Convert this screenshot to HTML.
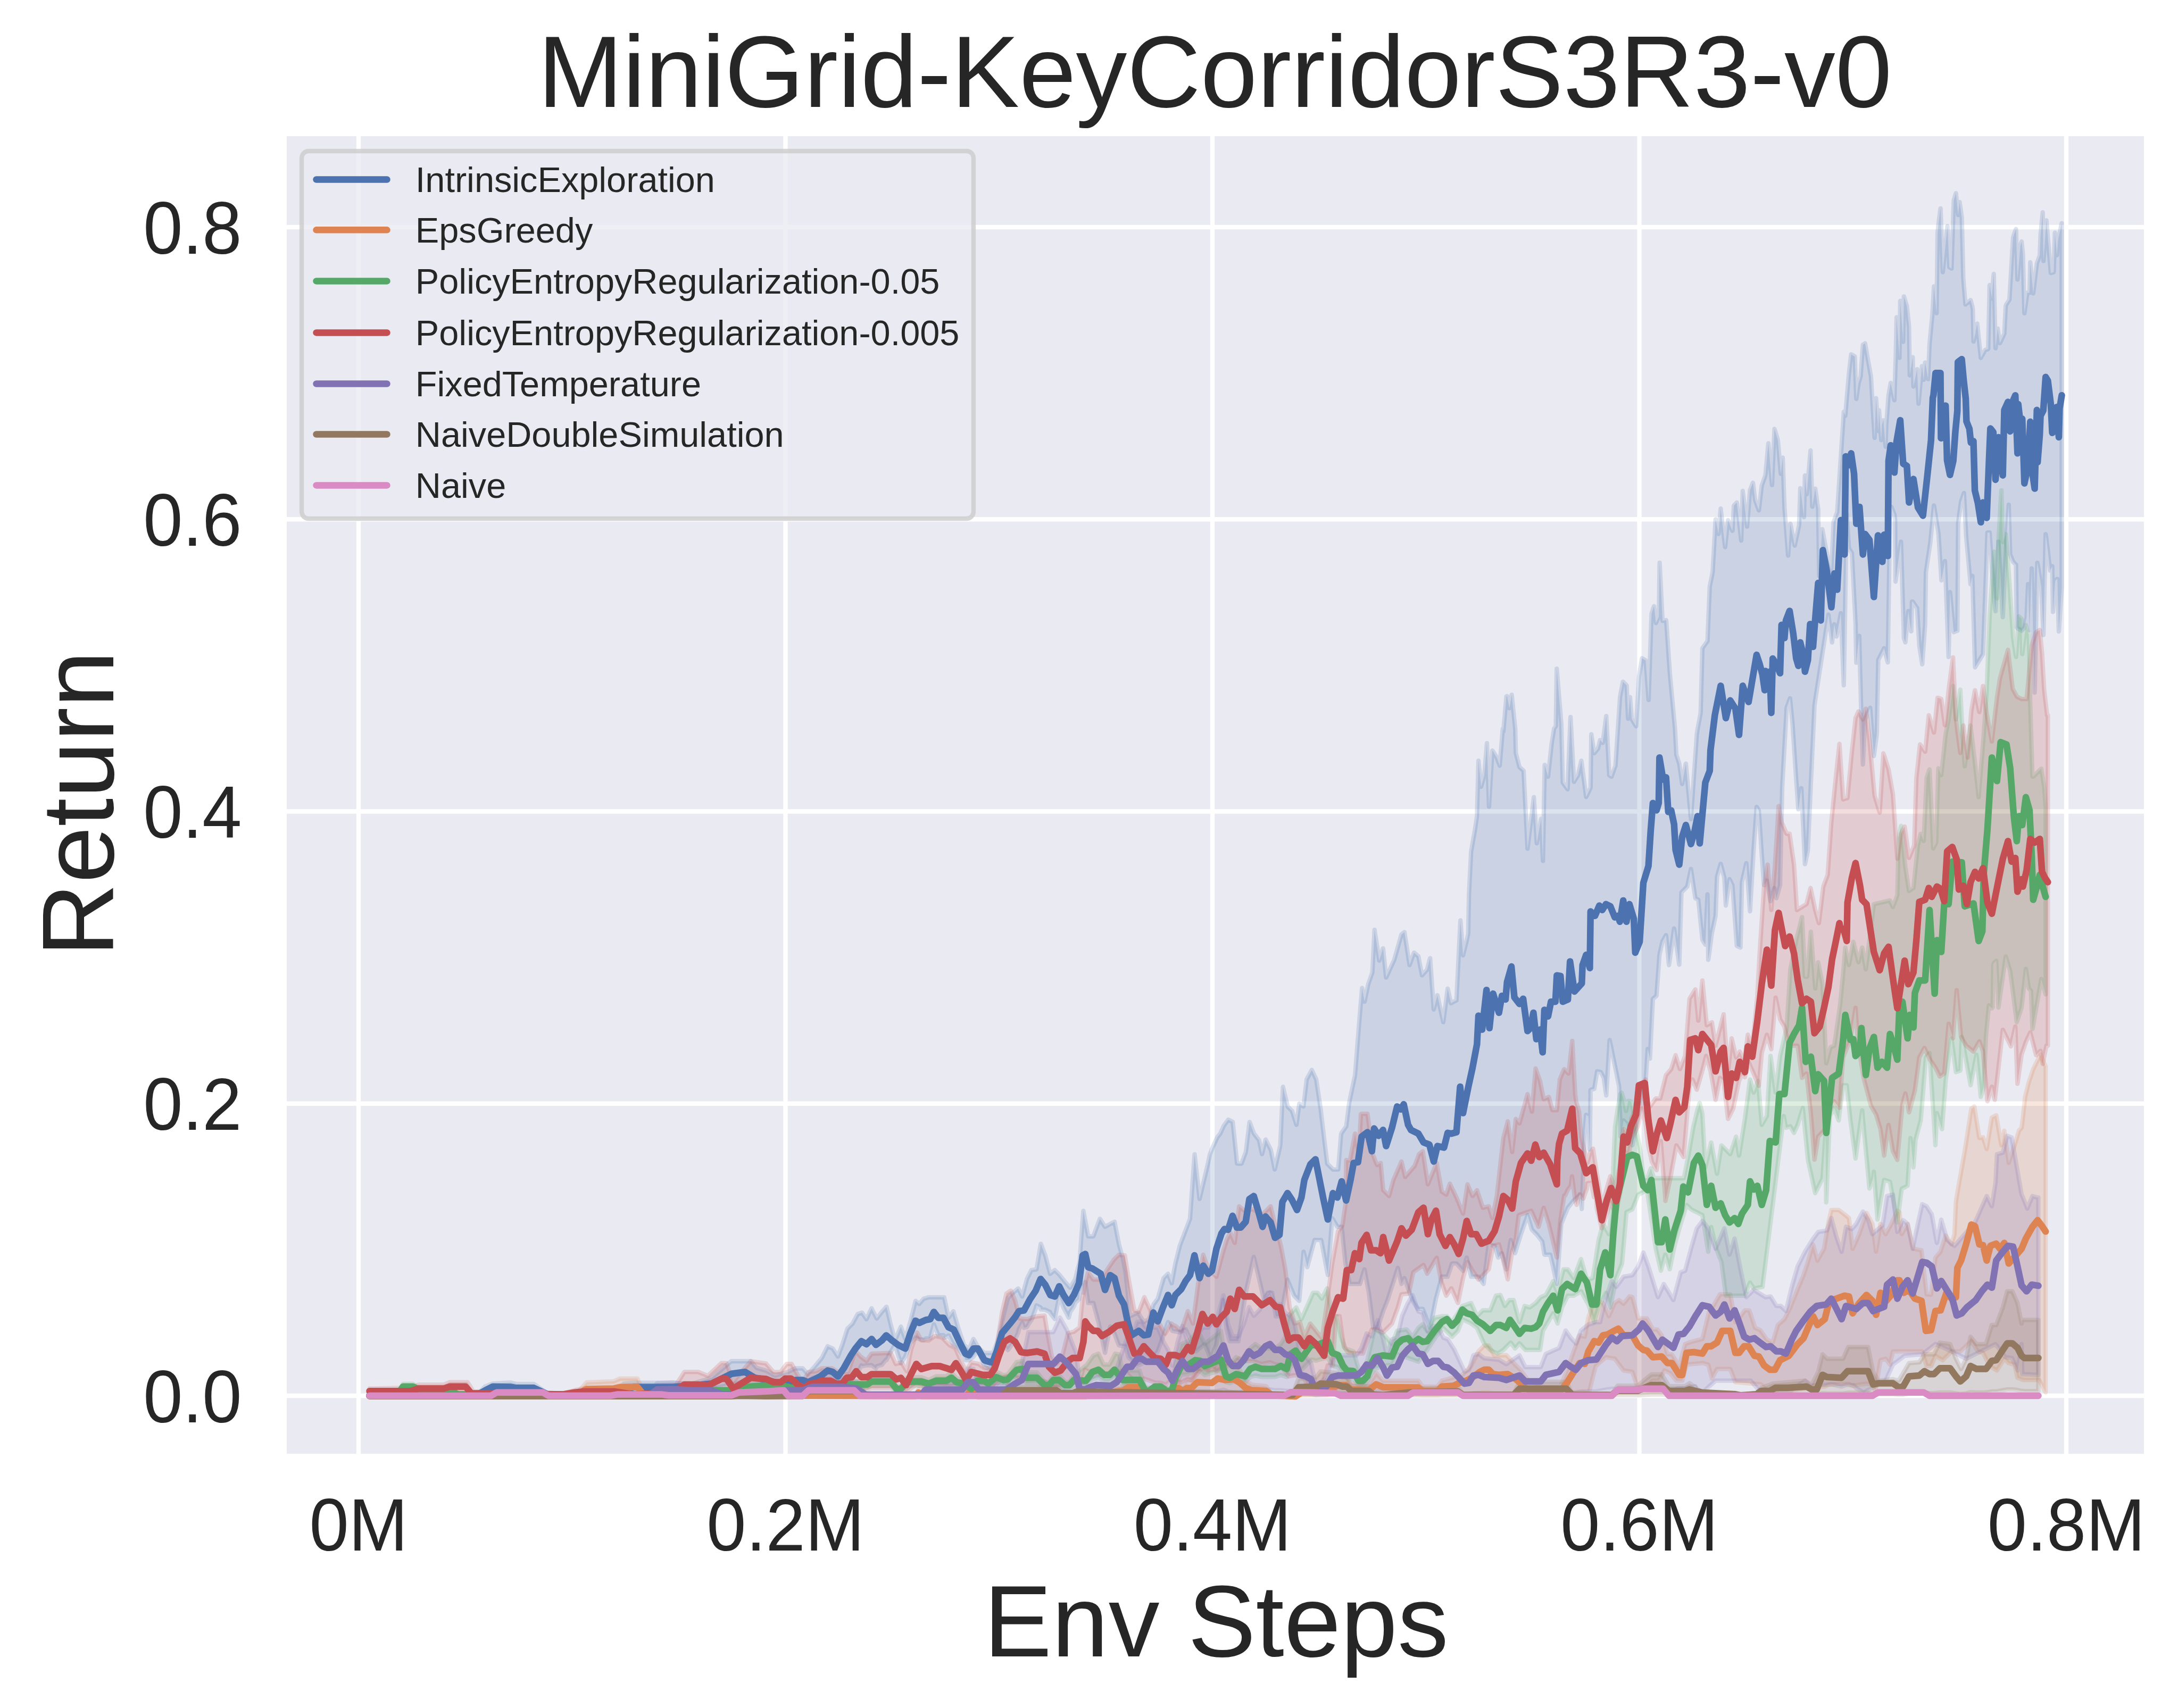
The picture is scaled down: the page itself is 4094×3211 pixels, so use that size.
<!DOCTYPE html>
<html><head><meta charset="utf-8"><title>MiniGrid-KeyCorridorS3R3-v0</title>
<style>html,body{margin:0;padding:0;background:#fff}body{width:4094px;height:3211px;overflow:hidden}svg{display:block}text{font-family:"Liberation Sans",sans-serif;fill:#262626}</style>
</head><body>
<svg width="4094" height="3211" viewBox="0 0 4094 3211">
<rect x="0" y="0" width="4094" height="3211" fill="#ffffff"/>
<rect x="539" y="256" width="3491" height="2477" fill="#eaeaf2"/>
<g stroke="#ffffff" stroke-width="8.3" fill="none">
<line x1="674" y1="256" x2="674" y2="2733"/>
<line x1="1476.5" y1="256" x2="1476.5" y2="2733"/>
<line x1="2279" y1="256" x2="2279" y2="2733"/>
<line x1="3081.5" y1="256" x2="3081.5" y2="2733"/>
<line x1="3884" y1="256" x2="3884" y2="2733"/>
<line x1="539" y1="427" x2="4030" y2="427"/>
<line x1="539" y1="976.25" x2="4030" y2="976.25"/>
<line x1="539" y1="1525.5" x2="4030" y2="1525.5"/>
<line x1="539" y1="2074.75" x2="4030" y2="2074.75"/>
<line x1="539" y1="2624" x2="4030" y2="2624"/>
</g>
<clipPath id="axclip"><rect x="539" y="256" width="3491" height="2477"/></clipPath>
<g clip-path="url(#axclip)">
<polygon points="694.5,2621.4 698.4,2621.4 897.1,2621.8 911.8,2606.7 926.5,2601.2 959.6,2599.2 970.6,2601.9 1003.6,2601.9 1029.3,2619.6 1154.2,2621.8 1172.6,2601.2 1191,2599.7 1264.4,2599.7 1301.2,2601.2 1337.9,2590.2 1374.6,2559 1400.3,2559 1411.3,2559 1418.7,2567.5 1422.4,2571.8 1440,2576.7 1456.5,2586.2 1475.8,2580.8 1481.3,2579.3 1495.1,2572.4 1508.9,2572.5 1518.5,2583.4 1530.9,2569.7 1541.9,2556.5 1544.7,2553.1 1555.7,2531.1 1565.3,2535.2 1575,2550.3 1583.3,2528.2 1586,2519.7 1592.9,2498 1599.8,2491.1 1602.5,2488.4 1608,2478.3 1612.2,2470.5 1619.1,2468.2 1620.4,2467.8 1628.7,2480.1 1638.3,2459.6 1646.6,2476 1648,2478.7 1657.6,2466.4 1665.9,2457.3 1666.4,2456.8 1674.2,2489.9 1676.9,2499.8 1682.4,2520 1687.9,2507.1 1693.4,2494 1701.7,2517.3 1711.3,2484.4 1721,2445.7 1727.9,2451.2 1736.1,2441.6 1740.3,2440.4 1745.8,2438.8 1748.5,2438.8 1755.4,2438.8 1763.7,2438.8 1773.3,2438.8 1774.7,2438.8 1783,2477.3 1792.1,2465.1 1792.6,2466.8 1800.9,2495.3 1803.6,2503.4 1811.9,2528.3 1814.7,2530.7 1821.5,2536.6 1829.8,2517.3 1838.1,2531.5 1839.4,2533.8 1850.5,2543.5 1858.7,2543.5 1865.6,2543.5 1867,2543.5 1873.9,2523.9 1875.3,2519.9 1883.5,2485.1 1886.3,2473.2 1894.5,2440.4 1897.3,2437.4 1905.6,2429.1 1908.3,2426.9 1913.8,2422.3 1915.2,2425 1921.5,2437.4 1924.8,2425.2 1930.4,2404.3 1935.9,2393.3 1938.6,2387.9 1946.9,2386.7 1948.3,2386.3 1956,2341.3 1956.5,2338.4 1964.8,2360.3 1973.9,2394.7 1974.4,2394.3 1982.7,2387.9 1991,2396.2 1999.2,2406.4 2002,2409.9 2008.9,2417.8 2011.6,2420.9 2018.5,2409.1 2021.3,2404.2 2028.2,2376.6 2029.5,2371.4 2032.3,2329.8 2035,2294.7 2036.4,2276.5 2040,2295.3 2045.5,2324.3 2053.7,2324.3 2055.1,2324.3 2064.7,2298.7 2067.5,2291.3 2068.9,2293.5 2077.1,2306.4 2086.8,2301.2 2095,2296.8 2103.3,2339.4 2110.2,2364.3 2112.9,2377.8 2115.7,2391.8 2119.8,2430.1 2121.2,2444.9 2124,2474.4 2126.7,2473.2 2137.7,2468.2 2139.1,2467.6 2140.5,2469.8 2150.1,2485.4 2158.4,2480.8 2159.8,2479.9 2165.3,2461.6 2168,2452.6 2176.3,2441.4 2186,2407.5 2187.3,2402.9 2195.6,2394.6 2202.5,2412.4 2203.9,2404.8 2209.4,2375.2 2217.6,2342.4 2220.4,2334.8 2225.9,2320.2 2228.7,2312.8 2236.9,2291.3 2245.2,2173.4 2245.5,2170.2 2247.9,2191.8 2254.8,2253.9 2261.7,2225.1 2264.5,2213.3 2270.2,2189.2 2271.3,2184.1 2274.4,2169.7 2275.5,2167 2278.2,2160.2 2279.9,2156 2286.5,2141.7 2288.2,2138 2293.7,2131.1 2296.1,2125.8 2298.9,2119.7 2300.6,2116 2301.7,2114.5 2305.8,2109 2308.5,2105.4 2308.8,2105 2311.3,2106.3 2316.8,2109 2317.1,2109.3 2321.2,2147.6 2325.1,2185.3 2325.3,2187.2 2327.8,2187.7 2332,2187.7 2333.6,2187.7 2341.6,2166.3 2341.9,2165.4 2348.5,2111.3 2348.8,2109.3 2356.7,2130.3 2357,2131.1 2365,2141.4 2366.4,2143.2 2366.7,2143.7 2372.2,2169.7 2373.3,2165.3 2376,2154.5 2378.8,2143.3 2379.1,2142.3 2382.9,2149.9 2388.4,2160.9 2388.7,2161.5 2391.2,2174 2396.1,2198.5 2396.7,2196.3 2398.1,2190.2 2405,2160.2 2406.6,2153.3 2407.7,2129 2410.5,2066.8 2411.6,2043.2 2420.1,2079 2420.4,2080.2 2428.4,2088.2 2428.7,2088.6 2432.5,2100.7 2436.9,2114.6 2438,2106.8 2442.1,2077.1 2442.4,2074.9 2446.3,2077.5 2450.1,2080.2 2450.4,2078 2451.8,2066.2 2456.2,2029.3 2457.3,2027.2 2463.1,2016.4 2465.8,2011.4 2471.1,2022.7 2472.7,2026.2 2474.1,2029.2 2482.4,2084.6 2483.5,2094 2487.6,2128.8 2487.9,2131.4 2494.8,2187.7 2495.9,2188.8 2504.1,2197 2505.5,2198.4 2505.8,2198.7 2513.8,2198.7 2515.4,2198.7 2520.9,2131.6 2522,2129.7 2528.9,2119.8 2530.3,2117.8 2530.6,2117.2 2536.1,2073.3 2537.2,2068.1 2538.6,2061.4 2544.4,2033.9 2547.1,2021 2552.6,1951.4 2555.4,1916 2556.5,1902.8 2559.5,1867 2560.3,1857.4 2564.7,1881.5 2565,1883.2 2570.5,1856.9 2571.9,1850.2 2573,1847.1 2578.8,1830.5 2579.6,1828.2 2581.3,1795 2582.9,1763.5 2583.7,1747.8 2589.5,1785.5 2591.2,1797 2592.6,1806 2599.7,1782.8 2600,1785.3 2605.5,1837.7 2608.3,1831.7 2616.5,1813.8 2617.9,1810.8 2620.7,1804.6 2626.2,1785.4 2627.5,1780.8 2633.1,1761.2 2634.4,1756.7 2638.6,1753.4 2639.9,1752.4 2646.8,1796.5 2649.6,1814.3 2652.3,1806.7 2656.5,1794.8 2657.9,1791 2664.7,1796.7 2666.1,1797.8 2673,1833.6 2674.4,1832.1 2675.8,1830.5 2682.6,1822.7 2686.8,1806 2688.2,1801.3 2695,1897.8 2699.2,1881.8 2701.9,1871 2710.2,1909.1 2712.9,1921.6 2714.3,1911.5 2721.2,1858.6 2727.3,1886 2728.1,1885.6 2729.5,1884.8 2737.7,1880.5 2744.6,1741.8 2745.2,1730.3 2750.1,1796 2757,1768 2759.8,1755.4 2761.2,1682.4 2765.3,1600.5 2768,1585.4 2772.2,1561.9 2776.3,1534.5 2779.1,1430.1 2784,1479.1 2786,1472.2 2788.7,1462.4 2790.1,1457.1 2794.2,1407 2795,1397.2 2798.3,1498 2798.9,1516.5 2799.7,1503.1 2805.2,1411.1 2806.6,1412.8 2809.4,1417.4 2813.5,1424.3 2816.3,1432 2817.6,1435.5 2819,1439.4 2823.1,1390.3 2824.8,1370 2825.9,1374.6 2830,1328.1 2831.4,1312.3 2831.7,1309.1 2832.8,1308.7 2837.3,1331.4 2839.7,1317.4 2841,1309.6 2841.6,1306.1 2846.6,1354.4 2847.9,1367 2848.2,1369.9 2849.3,1415.5 2856.2,1442.2 2859,1444.7 2863.1,1448.3 2863.9,1449.1 2871.3,1595.5 2876.9,1550.6 2879.6,1528.3 2882.4,1505.2 2883.2,1498.7 2887.9,1572.7 2888.7,1585.3 2889.3,1582.1 2894.8,1550.9 2897,1539.3 2898.9,1586 2899.7,1605.7 2900.3,1618.5 2903,1470 2903.6,1438.1 2909.9,1460 2914,1422.5 2915.4,1409.6 2916.8,1396.8 2921.2,1370 2923.7,1366.3 2924.5,1365.1 2926.2,1257.1 2926.4,1259.5 2933.3,1342.7 2934.7,1359.5 2934.8,1360.7 2937.5,1471.2 2946.6,1483.8 2947.1,1471.3 2951.2,1368.8 2952.1,1347.8 2958.1,1459 2958.7,1469.7 2959.5,1468.4 2966.4,1457.3 2970.5,1438.7 2972.5,1430.1 2973.3,1436.2 2974.7,1446.8 2978.8,1477.9 2981.5,1498.3 2985.7,1489.6 2988.4,1483.8 2989.8,1480.8 2991.2,1380.3 2996.7,1416 2998.1,1414.3 3002.2,1409.4 3003.6,1407.7 3006.3,1396.9 3007.7,1391.3 3009.1,1392.8 3011.8,1395.8 3012.7,1396.5 3014.6,1381.9 3018.7,1350.3 3019.3,1346.1 3024.8,1457.3 3025.6,1457.8 3027,1458.7 3029.2,1460.1 3035.3,1443.1 3036.6,1439.5 3040.8,1376.6 3043.5,1335.8 3044.9,1314.7 3045.2,1310.4 3046.3,1304.6 3050.7,1281.6 3051.2,1282.1 3051.8,1282.7 3057.3,1288.2 3057.6,1289 3060.3,1351.1 3062.8,1323.3 3063.9,1310.6 3067.2,1351.6 3068.3,1353.6 3071.1,1358.3 3073.8,1362.8 3075.5,1365.3 3081,1271.8 3082.1,1265 3086.5,1237.5 3089,1239 3093.1,1241.4 3093.4,1241.8 3097.2,1293.1 3098.6,1312 3098.9,1315.9 3101.4,1242.2 3102.8,1200.9 3104.4,1153.7 3106.9,1146.1 3109.1,1139.7 3112.7,1171.3 3113.8,1168.8 3117.9,1159.6 3118.2,1157.6 3119.3,1076.2 3119.6,1057.8 3124.8,1161.8 3125.1,1167.2 3126.2,1167 3131.7,1165.9 3132,1166.5 3135.8,1222 3137.2,1242.4 3138.8,1265.8 3141.3,1292.8 3146.8,1351.9 3148.5,1370.3 3149.6,1391.9 3151,1418.9 3156.5,1435.5 3160.6,1464.2 3162,1473.8 3168.9,1435.6 3171.6,1464.9 3178.5,1539.8 3185.4,1440.1 3186.8,1419.8 3189.5,1380.7 3190.9,1371.7 3191.2,1369.9 3192.3,1364.1 3195,1349.8 3196.7,1340.6 3200,1218.7 3205.5,1210.9 3209.6,1205 3211,1171.5 3213.8,1102.9 3215.2,1095.9 3217.9,1082.4 3219.3,1075.2 3223.4,1001.4 3224.8,976.3 3227.5,989.8 3230.3,1003.8 3234.4,956.1 3241.3,1016.3 3242.7,1028.6 3244.1,1015.7 3248.2,977.8 3251,984.7 3252.3,987.9 3256.5,997.9 3259.2,950.6 3262,947.4 3264.7,944.7 3268.9,980.7 3271.6,1004.1 3273,1016.2 3274.4,968.7 3275.8,922.9 3282.6,978.5 3284,989.9 3286.8,955.4 3289.5,921.6 3295,907.5 3296.4,918.3 3299.2,940.6 3301.9,948.1 3306.1,959.4 3307.4,948.4 3311.6,912.9 3312.9,909.2 3315.7,901.4 3317.1,897.5 3318.5,893.2 3321.2,863.5 3322.6,848.1 3324,833.4 3326.7,864.8 3328.1,881 3329.5,897.2 3330.9,911.9 3332.2,882.1 3335,817.8 3335.5,806.4 3339.1,817.9 3340.5,822.8 3341.9,827.9 3346,875 3347.4,890.8 3348.8,878.4 3350.1,866.9 3351,860.3 3354.3,954.7 3357,990.3 3358.4,1008.8 3361.2,1044.5 3363.9,1004.9 3364.7,993.2 3365.3,984.6 3369.4,1005.1 3370.8,1012.1 3373.6,1025.7 3376.3,1013.1 3380.4,993.9 3381.8,987.4 3384,917.8 3386,932.9 3390.1,965.7 3390.9,972.1 3392.8,893.8 3396.1,929 3398.3,904.6 3402.5,856.1 3403.3,846.9 3403.9,865.9 3406.6,952.5 3408,944.2 3410.7,927.3 3412.1,918.6 3417.6,956.8 3419.6,1083.1 3422.6,1036.7 3425.3,994.9 3426.4,1000 3434.2,1042.6 3436.9,1052 3442.4,1071.3 3443.8,1041.5 3446.6,981.7 3447.9,978.1 3452.1,966.3 3453.4,962.7 3460.3,858 3465.8,774.1 3467.2,777.6 3468.6,781.7 3469.4,772.5 3471.3,750.4 3475.5,701.7 3479.6,666.2 3481,666.9 3485.1,669.4 3486.5,670.2 3487.9,710.8 3489.3,749.8 3493.4,721.1 3494.8,716.5 3495.3,714.8 3497.5,707.5 3498.9,687.6 3501.7,648.2 3505.8,645.5 3511.3,677.1 3514,692 3515.4,699.7 3516.8,707.4 3522.3,800 3523.7,823.2 3526.4,748.6 3527.8,768.2 3530,802.1 3530.6,810.4 3532,771.4 3536.1,827.3 3537.5,798.2 3538.3,795.8 3540.2,790.1 3541.6,807.2 3544.4,839.8 3545.7,799.3 3548.5,761.4 3549.9,743 3552.6,727.7 3554,719.8 3555.4,726.6 3560.9,752.3 3562.3,706.8 3563.1,680.8 3563.6,664.5 3565,596.5 3569.1,653 3570.5,672.6 3571.9,565.6 3573.3,585.1 3577.4,642.5 3578.8,557.3 3581.5,566.1 3584.3,575.2 3587.1,601.3 3588.4,613.5 3589.8,705.6 3592.6,688.6 3593.9,680.5 3595.3,671.7 3596.7,726.7 3603.6,694.1 3605.2,732.5 3606.3,758.9 3607.7,744.3 3612.7,688.3 3613.2,692.3 3614.6,703.4 3616,714 3618.7,681.6 3620.1,689.1 3622.9,705.2 3624.2,712.7 3627,646.8 3628.4,632.1 3629.8,617.4 3632.5,589 3633.1,578 3634.4,553.9 3635.3,538.4 3638.3,569.2 3640.2,588.7 3642.1,438.6 3643.8,421.5 3647.5,391.9 3647.7,391.8 3648.5,415.3 3649.3,438.8 3651.8,511.7 3655.9,471.4 3657.2,458.6 3659.9,432 3660.6,425.1 3662.8,472.3 3664.2,502.2 3665.4,503 3665.6,503.1 3668.3,504.9 3671.6,403.2 3672.5,376.7 3675.5,366.7 3676.6,363.2 3679.2,389.2 3679.3,390.2 3680.2,399.2 3680.7,404.2 3683.5,379.8 3686.2,398.7 3687.5,407.8 3687.6,408.5 3690.4,523.3 3691.2,532.9 3691.7,538.9 3694.5,572.4 3695,572 3695.9,571.2 3696.4,570.8 3701.9,566.1 3704.1,564.2 3704.7,566.2 3707.4,576.1 3708.3,581 3709.5,637.4 3709.6,642.1 3712.1,631.3 3712.4,629.7 3716.5,608.4 3717.9,621.1 3723.4,672.8 3727.5,665.5 3731.7,657.8 3734.4,657.1 3735.8,656.8 3737.2,656 3738.6,593.7 3739.9,535.9 3741.3,542.9 3744.1,561.1 3746.8,524.8 3747.7,515 3748.2,536.4 3751,654.7 3755.1,617.9 3756.5,627.2 3759.2,645.2 3764.7,633.6 3767.5,627.4 3770.2,574.7 3771.6,571.8 3774.4,567.6 3775.8,565.5 3777.1,563.5 3778.5,540.1 3779.9,516.2 3784,446.1 3788.2,434.2 3789.5,430.6 3790.9,477.8 3792.3,525.4 3793.7,509.3 3797.8,462.2 3800,454 3801.2,465.7 3802.5,478.4 3805.3,588.9 3809.4,560.2 3810.8,550.4 3812.2,550.4 3813.6,550.4 3814.9,550.4 3816.3,493.1 3817.7,507.4 3819.1,522.5 3821.8,551.5 3824.6,529 3828.7,495.4 3829.5,493.1 3830.1,491.5 3834.2,480.2 3835.6,442.9 3837,428 3839.7,399.2 3840.8,470.6 3841.1,490.7 3845.2,433.9 3846.6,414.3 3849.4,447.4 3853.5,496.6 3854.9,513.2 3857.6,512.5 3859,512.2 3860.4,511.5 3862.6,437.5 3863.1,443 3865.9,474 3866.5,479.5 3867.3,469 3868.7,451 3870,445 3871.4,438.6 3875.5,419.7 3875.5,1103.7 3871.4,1167.2 3870,1187.2 3868.7,1139.8 3867.3,1088.7 3866.5,1088.7 3865.9,1089.3 3863.1,1092.7 3862.6,1099.8 3860.4,1131.4 3859,1150.4 3857.6,1064.5 3854.9,1069.9 3853.5,1072.7 3849.4,1035.8 3846.6,1013.4 3845.2,1004.3 3841.1,1193.8 3840.8,1187.2 3839.7,1163 3837,1103.6 3835.6,1094.4 3834.2,1085.6 3830.1,1059.7 3829.5,1058 3828.7,1097.9 3824.6,1302 3821.8,1198.3 3819.1,1068.7 3817.7,1106.5 3816.3,1146.6 3814.9,1184.5 3813.6,1142.9 3812.2,1098.1 3810.8,1129.3 3809.4,1161 3805.3,1180.1 3802.5,1183.1 3801.2,1184.4 3800,1185.7 3797.8,1184.3 3793.7,1181.9 3792.3,1181 3790.9,1179.4 3789.5,1061.7 3788.2,1060.4 3784,1056.1 3779.9,1045.9 3778.5,1042 3777.1,993.7 3775.8,948.8 3774.4,968.7 3771.6,1012.7 3770.2,1042.9 3767.5,1101.2 3764.7,1160.2 3759.2,1064.9 3756.5,1018.1 3755.1,1050.6 3751,1149 3748.2,1124.9 3747.7,1117.4 3746.8,1103.9 3744.1,1063.4 3741.3,1021.4 3739.9,1001.1 3738.6,1001.1 3737.2,1001.1 3735.8,1001.5 3734.4,1040.2 3731.7,1114.9 3727.5,1229.8 3723.4,1236.5 3717.9,1245.5 3716.5,1247.8 3712.4,1254.5 3712.1,1244.2 3709.6,1157.4 3709.5,1154 3708.3,1112.3 3707.4,1082.6 3704.7,1096.1 3704.1,1098.5 3701.9,1074.7 3696.4,1015.1 3695.9,1009.7 3695,992 3694.5,982 3691.7,926.8 3691.2,928.3 3690.4,930.7 3687.6,939.1 3687.5,939.4 3686.2,943.4 3683.5,962.3 3680.7,984.2 3680.2,1058.2 3679.3,1185.7 3679.2,1185.7 3676.6,1186.8 3675.5,1187.2 3672.5,1188.4 3671.6,1179.1 3668.3,1142.8 3665.6,1113.1 3665.4,1120 3664.2,1173.4 3662.8,1235 3660.6,1177.4 3659.9,1159 3657.2,1088.3 3655.9,1054.9 3651.8,1077.6 3649.3,1091.1 3648.5,1078.3 3647.7,1065.5 3647.5,1062.3 3643.8,1003.2 3642.1,992.6 3640.2,980.8 3638.3,969 3635.3,950.4 3634.4,958.9 3633.1,972.2 3632.5,978.3 3629.8,1005.8 3628.4,1020.1 3627,1029.6 3624.2,1048.2 3622.9,1056.9 3620.1,1076.2 3618.7,1173.7 3616,1210.9 3614.6,1230.1 3613.2,1248.9 3612.7,1245.6 3607.7,1213 3606.3,1189.2 3605.2,1170.5 3603.6,1143.3 3596.7,1133.1 3595.3,1131.1 3593.9,1130.9 3592.6,1186.8 3589.8,1168.4 3588.4,1158.3 3587.1,1148.8 3584.3,1178.1 3581.5,1207.6 3578.8,1199.5 3577.4,1153.6 3573.3,1018.3 3571.9,1027.7 3570.5,1038 3569.1,1048.3 3565,1079 3563.6,1089.5 3563.1,1093.3 3562.3,976.9 3560.9,967.3 3555.4,953 3554,959.1 3552.6,966.5 3549.9,1150.1 3548.5,1245.3 3545.7,1235.1 3544.4,1229.9 3541.6,1218.7 3540.2,1221.5 3538.3,1225.3 3537.5,1226.9 3536.1,1229.7 3532,1237.9 3530.6,1240.7 3530,1270 3527.8,1380.4 3526.4,1390.9 3523.7,1411.1 3522.3,1421.3 3516.8,1348.7 3515.4,1330.7 3514,1333.9 3511.3,1340 3505.8,1352.6 3501.7,1437.1 3498.9,1352.7 3497.5,1298.9 3495.3,1214.5 3494.8,1195.3 3493.4,1206.9 3489.3,1245.9 3487.9,1173 3486.5,1145.4 3485.1,1118.5 3481,1039.8 3479.6,1037.6 3475.5,1031.4 3471.3,965.5 3469.4,1078.2 3468.6,1125.6 3467.2,1208.6 3465.8,1288.3 3460.3,1152.8 3453.4,1189.6 3452.1,1196.5 3447.9,1173.6 3446.6,1184.4 3443.8,1207.7 3442.4,1197.1 3436.9,1155.5 3434.2,1173 3426.4,1223.6 3425.3,1230.7 3422.6,1248.2 3419.6,1267.7 3417.6,1280.6 3412.1,1316.3 3410.7,1326 3408,1384.4 3406.6,1414.6 3403.9,1472.9 3403.3,1486.4 3402.5,1504.4 3398.3,1598.1 3396.1,1609.1 3392.8,1624.6 3390.9,1584.7 3390.1,1567.9 3386,1481.8 3384,1495.4 3381.8,1511.9 3380.4,1521.5 3376.3,1465.5 3373.6,1424.4 3370.8,1381.9 3369.4,1360.7 3365.3,1318.5 3364.7,1312.8 3363.9,1315.1 3361.2,1322.7 3358.4,1330.6 3357,1355.4 3354.3,1403.1 3351,1461.4 3350.1,1478.3 3348.8,1537.3 3347.4,1600.7 3346,1664 3341.9,1678.7 3340.5,1683.8 3339.1,1688.6 3335.5,1671.8 3335,1669.5 3332.2,1679.5 3330.9,1684.2 3329.5,1689.2 3328.1,1694.2 3326.7,1686.4 3324,1671.3 3322.6,1663.4 3321.2,1655.7 3318.5,1659.7 3317.1,1661.8 3315.7,1663.9 3312.9,1624.7 3311.6,1606.5 3307.4,1543.5 3306.1,1524 3301.9,1517 3299.2,1555.4 3296.4,1595.4 3295,1619.5 3289.5,1713.1 3286.8,1677.5 3284,1640.5 3282.6,1622.8 3275.8,1652.3 3274.4,1658.3 3273,1720 3271.6,1781.3 3268.9,1780.2 3264.7,1778 3262,1740.6 3259.2,1701.8 3256.5,1664.3 3252.3,1655.6 3251,1653 3248.2,1672.8 3244.1,1702.3 3242.7,1676.3 3241.3,1650.1 3234.4,1624.1 3230.3,1638.1 3227.5,1648.7 3224.8,1721.6 3223.4,1728.3 3219.3,1747.3 3217.9,1753.8 3215.2,1774.3 3213.8,1785 3211,1804.4 3209.6,1681.4 3205.5,1775.8 3200,1766.7 3196.7,1734.5 3195,1717.9 3192.3,1691.6 3191.2,1690.9 3190.9,1690.8 3189.5,1690.1 3186.8,1688.7 3185.4,1679.6 3178.5,1633.7 3171.6,1666.7 3168.9,1669.4 3162,1676.3 3160.6,1677.9 3156.5,1813.5 3151,1775.3 3149.6,1765.3 3148.5,1757.4 3146.8,1745.7 3141.3,1785 3138.8,1802.9 3137.2,1814.3 3135.8,1800.1 3132,1761.2 3131.7,1758.1 3126.2,1767.8 3125.1,1769.8 3124.8,1770.3 3119.6,1793.7 3119.3,1795 3118.2,1810.3 3117.9,1814.5 3113.8,1871.9 3112.7,1873.1 3109.1,1876 3106.9,1877.7 3104.4,1928.7 3102.8,1961.5 3101.4,1990.2 3098.9,1979.1 3098.6,1977.7 3097.2,1972.1 3093.4,2032.9 3093.1,2037.6 3089,2056.7 3086.5,2068.4 3082.1,2088.9 3081,2094 3075.5,2119.7 3073.8,2127.6 3071.1,2140.2 3068.3,2153.1 3067.2,2149 3063.9,2136.6 3062.8,2132.5 3060.3,2123.1 3057.6,2113 3057.3,2111.9 3051.8,2106.4 3051.2,2109.6 3050.7,2112.4 3046.3,2136.6 3045.2,2099.9 3044.9,2089.7 3043.5,2042.9 3040.8,2029.4 3036.6,2008.4 3035.3,2001.9 3029.2,1972.3 3027,1961.6 3025.6,1955.2 3024.8,1968.4 3019.3,2059.3 3018.7,2055.4 3014.6,2026.5 3012.7,2022.7 3011.8,2020.9 3009.1,2015.5 3007.7,2015.2 3006.3,2014.9 3003.6,2014.4 3002.2,2014.1 2998.1,2038.7 2996.7,2047.1 2991.2,2048.3 2989.8,2049.1 2988.4,2160.8 2985.7,2098.7 2981.5,2095.8 2978.8,2125.5 2974.7,2235.3 2973.3,2272.8 2972.5,2265.6 2970.5,2245.8 2966.4,2249.5 2959.5,2255.6 2958.7,2256.3 2958.1,2256.9 2952.1,2264.4 2951.2,2265.5 2947.1,2270.6 2946.6,2271.8 2937.5,2294.1 2934.8,2300.7 2934.7,2301.1 2933.3,2320.2 2926.4,2413.7 2926.2,2412.8 2924.5,2405.2 2923.7,2401.7 2921.2,2390.5 2916.8,2371 2915.4,2364.8 2914,2358.8 2909.9,2358.8 2903.6,2358.8 2903,2358.6 2900.3,2342.4 2899.7,2338.8 2898.9,2334 2897,2331.5 2894.8,2328.7 2889.3,2321.6 2888.7,2321 2887.9,2320.2 2883.2,2315.5 2882.4,2314.7 2879.6,2311.9 2876.9,2302.9 2871.3,2284.5 2863.9,2305.9 2863.1,2308.2 2859,2320.1 2856.2,2329.1 2849.3,2351.6 2848.2,2355.1 2847.9,2355.9 2846.6,2352 2841.6,2337 2841,2335.2 2839.7,2331.3 2837.3,2347 2832.8,2377 2831.7,2384.3 2831.4,2386.3 2830,2381.2 2825.9,2366.1 2824.8,2362.1 2823.1,2356.1 2819,2361 2817.6,2362.7 2816.3,2364.2 2813.5,2355.5 2809.4,2342.3 2806.6,2341.5 2805.2,2341.2 2799.7,2339.8 2798.9,2339.6 2798.3,2339.8 2795,2365.3 2794.2,2371.5 2790.1,2403.1 2788.7,2413.8 2786,2410 2784,2407.1 2779.1,2400.1 2776.3,2400.1 2772.2,2400.1 2768,2400.1 2765.3,2400.1 2761.2,2382.4 2759.8,2376.3 2757,2364.4 2750.1,2389 2745.2,2383.6 2744.6,2382.9 2737.7,2375.3 2729.5,2375.3 2728.1,2379.4 2727.3,2381.8 2721.2,2400.1 2714.3,2400.1 2712.9,2400.1 2710.2,2400.1 2701.9,2431.2 2699.2,2441.3 2695,2462.3 2688.2,2496.3 2686.8,2493 2682.6,2482.1 2675.8,2464.4 2674.4,2460.7 2673,2460.7 2666.1,2460.7 2664.7,2460.6 2657.9,2449.3 2656.5,2447 2652.3,2436.9 2649.6,2430.4 2646.8,2422.4 2639.9,2402.9 2638.6,2405.5 2634.4,2413.7 2633.1,2408 2627.5,2383.7 2626.2,2387.8 2620.7,2405.1 2617.9,2413.9 2616.5,2418.3 2608.3,2444 2605.5,2451.1 2600,2464.8 2599.7,2465.7 2592.6,2487.2 2591.2,2491.5 2589.5,2496.5 2583.7,2496.5 2582.9,2496.5 2581.3,2496.5 2579.6,2483.2 2578.8,2476.8 2573,2430.4 2571.9,2424.5 2570.5,2417 2565,2387.7 2564.7,2386.4 2560.3,2401.1 2559.5,2403.8 2556.5,2413.8 2555.4,2413.9 2552.6,2413.9 2547.1,2413.9 2544.4,2413.9 2538.6,2413.9 2537.2,2413.9 2536.1,2408.8 2530.6,2383.1 2530.3,2381.7 2528.9,2375 2522,2306.4 2520.9,2306.4 2515.4,2306.4 2513.8,2306.4 2505.8,2292.7 2505.5,2292.2 2504.1,2290.3 2495.9,2396.9 2494.8,2391.6 2487.9,2354.8 2487.6,2353.2 2483.5,2331.4 2482.4,2331.2 2474.1,2331.2 2472.7,2331.2 2471.1,2331.2 2465.8,2350.7 2463.1,2360.7 2457.3,2382.2 2456.2,2377.6 2451.8,2359.1 2450.4,2353.4 2450.1,2356.7 2446.3,2399.2 2442.4,2442.7 2442.1,2445.5 2438,2441.4 2436.9,2440.3 2432.5,2435.9 2428.7,2426.6 2428.4,2425.9 2420.4,2406.3 2420.1,2405.6 2411.6,2452.9 2410.5,2459 2407.7,2474.5 2406.6,2474.5 2405,2474.5 2398.1,2474.5 2396.7,2465.7 2396.1,2461.8 2391.2,2430.5 2388.7,2430.4 2388.4,2430.4 2382.9,2430.4 2379.1,2438 2378.8,2438.6 2376,2444 2373.3,2432.4 2372.2,2427.7 2366.7,2404.2 2366.4,2402.9 2365,2397.1 2357,2363.9 2356.7,2363.1 2348.8,2398.3 2348.5,2399.6 2341.9,2429 2341.6,2430.4 2333.6,2483.2 2332,2493.7 2327.8,2521.3 2325.3,2521.3 2325.1,2521.3 2321.2,2521.3 2317.1,2521.3 2316.8,2521.3 2311.3,2521.3 2308.8,2511.3 2308.5,2510.1 2305.8,2499.3 2301.7,2466.6 2300.6,2457.8 2298.9,2444.2 2296.1,2462.8 2293.7,2478.8 2288.2,2515.5 2286.5,2526.8 2279.9,2543.3 2278.2,2547.6 2275.5,2554.3 2274.4,2551.6 2271.3,2543.9 2270.2,2541.1 2264.5,2526.9 2261.7,2529.1 2254.8,2534.9 2247.9,2540.5 2245.5,2535.1 2245.2,2534.4 2236.9,2515.8 2228.7,2499.4 2225.9,2500.6 2220.4,2503.4 2217.6,2504.8 2209.4,2503.1 2203.9,2502 2202.5,2499.3 2195.6,2485.5 2187.3,2509.2 2186,2512.9 2176.3,2540.6 2168,2551 2165.3,2554.3 2159.8,2557.1 2158.4,2557.8 2150.1,2561.9 2140.5,2566.7 2139.1,2567.4 2137.7,2568.1 2126.7,2557.1 2124,2554.4 2121.2,2551.6 2119.8,2546.3 2115.7,2530.9 2112.9,2530.6 2110.2,2530.3 2103.3,2529.5 2095,2507.5 2086.8,2493.8 2077.1,2543.2 2068.9,2504.9 2067.5,2498.4 2064.7,2485.3 2055.1,2449.7 2053.7,2449.7 2045.5,2449.7 2040,2410.4 2036.4,2430.1 2035,2416.6 2032.3,2424.8 2029.5,2428.7 2028.2,2442.6 2021.3,2448.8 2018.5,2456.4 2011.6,2466.5 2008.9,2477 2002,2463.8 1999.2,2458.6 1991,2437 1982.7,2479.6 1974.4,2468.8 1973.9,2466.7 1964.8,2462.2 1956.5,2461.6 1956,2458 1948.3,2454.2 1946.9,2460.1 1938.6,2482.2 1935.9,2485.1 1930.4,2494.8 1924.8,2496.2 1921.5,2486.8 1915.2,2499 1913.8,2505.4 1908.3,2517.8 1905.6,2522.1 1897.3,2534.3 1894.5,2538 1886.3,2528.3 1883.5,2524.5 1875.3,2546.9 1873.9,2552.4 1867,2569.8 1865.6,2576.6 1858.7,2574.1 1850.5,2569 1839.4,2540.8 1838.1,2538.5 1829.8,2550.5 1821.5,2557 1814.7,2556.9 1811.9,2548.7 1803.6,2539.2 1800.9,2535.4 1792.6,2527.1 1792.1,2528.2 1783,2510.6 1774.7,2514.9 1773.3,2510.2 1763.7,2510.2 1755.4,2489.9 1748.5,2515.3 1745.8,2516.1 1740.3,2516.5 1736.1,2518.9 1727.9,2517.5 1721,2514.5 1711.3,2525.2 1701.7,2550.5 1693.4,2562.6 1687.9,2546.4 1682.4,2527.8 1676.9,2537.3 1674.2,2541.3 1666.4,2556.9 1665.9,2555.6 1657.6,2565.8 1648,2568.6 1646.6,2572.8 1638.3,2566.5 1628.7,2566.8 1620.4,2568.5 1619.1,2566.8 1612.2,2580.7 1608,2583.8 1602.5,2590.4 1599.8,2595.6 1592.9,2612.7 1586,2617.2 1583.3,2616.9 1575,2619.2 1565.3,2616.8 1555.7,2615.2 1544.7,2612.8 1541.9,2614 1530.9,2613 1518.5,2611.5 1508.9,2613.2 1495.1,2613.2 1481.3,2620.1 1475.8,2618.8 1456.5,2609.1 1440,2608.6 1422.4,2607 1418.7,2609.4 1411.3,2608.5 1400.3,2596.4 1374.6,2603.1 1337.9,2610.6 1301.2,2608 1264.4,2614.7 1191,2614.7 1172.6,2624 1154.2,2623.1 1029.3,2623 1003.6,2615.5 970.6,2615.5 959.6,2614.5 926.5,2611.4 911.8,2620.3 897.1,2623.1 698.4,2624 694.5,2624" fill="#4c72b0" fill-opacity="0.2" stroke="#4c72b0" stroke-opacity="0.2" stroke-width="8.3" stroke-linejoin="round"/>
<polygon points="694.5,2624 698.4,2624 1080.8,2622.5 1102.8,2599 1154.2,2596.8 1165.3,2591.6 1198.3,2591.6 1209.3,2618.8 1440,2623.5 1721,2624.2 1726.5,2611.8 1732,2624.2 1817.4,2624.2 1821.5,2611.9 1831.2,2611.8 1836.7,2624.2 2040,2624.2 2110.2,2605.9 2121.2,2592.2 2143.3,2592.2 2151.5,2608.6 2170.8,2611.4 2179.1,2603.2 2192.8,2611.4 2203.9,2611.4 2214.9,2594.9 2223.1,2605.9 2231.4,2594.9 2239.7,2594.8 2250.7,2572.9 2278.2,2575.6 2289.3,2559.1 2303,2564.6 2319.6,2561.9 2330.6,2575.7 2341.6,2594.9 2352.6,2603.1 2380.2,2606 2391.2,2622.4 2435.3,2625 2446.3,2611.4 2495.9,2605.9 2515.2,2583.9 2528.9,2583.9 2539.9,2600.3 2573,2603.2 2586.8,2581.1 2600,2595.7 2666.1,2595.7 2674.4,2606.7 2701.9,2606.7 2710.2,2595.7 2732.2,2589.4 2748.8,2584.6 2757,2576.4 2765.3,2568.1 2770.8,2557.1 2779.1,2540.5 2781.8,2537.8 2790.1,2529.6 2798.3,2529.6 2806.6,2544 2809.4,2548.8 2817.6,2548.3 2831.4,2547.5 2834.2,2550.5 2847.9,2565.3 2859,2576.5 2867.2,2587.9 2872.7,2595.6 2878.2,2597.7 2903,2606.7 2933.3,2606.7 2944.4,2579 2958.1,2540.7 2969.1,2510.4 2978.8,2513 2985.7,2477.1 2996.7,2444.2 2999.4,2445.1 3005,2446.9 3013.2,2449.7 3018.7,2462 3021.5,2468.3 3024.2,2474.4 3033.9,2452.7 3035.3,2449.6 3042.1,2445.1 3043.5,2444.2 3051.8,2451 3062.8,2437.3 3068.3,2438.6 3079.3,2478.5 3080.7,2478.6 3089,2478.6 3095.9,2478.7 3106.9,2499.3 3115.2,2499.3 3117.9,2502.9 3123.4,2510.3 3128.9,2528.1 3134.4,2546 3139.9,2546.1 3142.7,2546.1 3151,2559.4 3156.5,2568 3162,2547.4 3167.5,2526.8 3170.2,2525.8 3178.5,2522.7 3184,2521.3 3200,2517.2 3208.3,2483 3211,2471.9 3212.4,2466.2 3216.5,2460.3 3217.9,2458.3 3222,2452.5 3227.5,2442.9 3233.1,2433.1 3237.2,2433.1 3252.3,2433.1 3262,2485.5 3268.9,2477.6 3271.6,2474.5 3278.5,2465.3 3279.9,2463.4 3286.8,2463.4 3288.2,2463.6 3297.8,2492.4 3299.2,2496.5 3306.1,2499.5 3308.8,2500.6 3310.2,2502.6 3315.7,2510.6 3321.2,2518.5 3326.7,2521.3 3332.2,2524 3336.4,2509.8 3341.9,2491 3346,2487.3 3354.3,2479.9 3362.5,2463.5 3365.3,2457.9 3376.3,2430.4 3379.1,2423.7 3390.1,2397.3 3398.3,2372.7 3408,2339.5 3416.3,2369.7 3428.7,2347.4 3430,2339.6 3436.9,2298.2 3442.4,2274.8 3447.9,2274.7 3456.2,2274.7 3467.2,2283 3475.5,2290 3482.4,2347.7 3494.8,2320.1 3508.5,2280.4 3519.6,2301.2 3525.1,2343 3526.4,2352.9 3534.7,2301 3544.4,2320.1 3552.6,2305.8 3554,2303.3 3555.4,2300.8 3558.1,2294.8 3566.4,2276.1 3570.5,2278.9 3574.7,2320.1 3578.8,2312.9 3585.7,2301 3588.4,2312.5 3596.7,2347.7 3599.4,2348.2 3611.8,2350.5 3613.2,2362.1 3620.1,2421.2 3621.5,2433.1 3629.8,2434.1 3638,2364.4 3647.7,2353.1 3651.8,2340.2 3657.3,2322.9 3658.7,2325 3668.3,2339.4 3673.8,2320.3 3676.6,2259.5 3679.3,2243.3 3682.1,2226.5 3684.8,2211.2 3686.2,2203.3 3693.1,2164.3 3695.9,2146.3 3705.5,2084.4 3711,2080.2 3712.4,2088.7 3717.9,2122.5 3720.7,2139.4 3727.5,2138.1 3734.4,2160 3739.9,2126.5 3741.3,2117.9 3744.1,2100.9 3752.3,2096.8 3753.7,2104.7 3759.2,2136.9 3762,2153.1 3767.5,2125.7 3775.8,2186.2 3786.8,2153.1 3792.3,2134.8 3795,2125.8 3800,2120.2 3801.2,2111.6 3802.5,2099.9 3806.7,2062.2 3808,2057 3813.6,2034.6 3820.4,2014.2 3821.8,2010 3828.7,1996.2 3830.1,1993.4 3832.8,1988 3835.6,1982.4 3838.4,1989.1 3842.5,1999 3845.2,2004.4 3845.2,2617.6 3842.5,2612.5 3838.4,2604.8 3835.6,2599.5 3832.8,2594.3 3830.1,2594.3 3828.7,2594.3 3821.8,2594.3 3820.4,2594.3 3813.6,2594.3 3808,2594.3 3806.7,2594.3 3802.5,2594.3 3801.2,2593.6 3800,2592.9 3795,2591.1 3792.3,2590.2 3786.8,2565.5 3775.8,2562.6 3767.5,2554.4 3762,2563.1 3759.2,2567.6 3753.7,2576.4 3752.3,2575.5 3744.1,2570.6 3741.3,2568.9 3739.9,2568 3734.4,2557 3727.5,2543.3 3720.7,2541.4 3717.9,2540.6 3712.4,2532 3711,2529.8 3705.5,2521.3 3695.9,2530.3 3693.1,2532.9 3686.2,2539.3 3684.8,2540.6 3682.1,2540.6 3679.3,2540.6 3676.6,2540.6 3673.8,2540.6 3668.3,2540.6 3658.7,2550.2 3657.3,2551.6 3651.8,2557.1 3647.7,2554.7 3638,2548.9 3629.8,2568 3621.5,2568.1 3620.1,2563.5 3613.2,2540.6 3611.8,2540.6 3599.4,2540.6 3596.7,2540.6 3588.4,2540.6 3585.7,2540.6 3578.8,2540.6 3574.7,2540.6 3570.5,2540.6 3566.4,2540.6 3558.1,2540.7 3555.4,2552.8 3554,2559.1 3552.6,2565.3 3544.4,2554.4 3534.7,2557.2 3526.4,2607 3525.1,2614.8 3519.6,2602.6 3508.5,2601.3 3494.8,2603.1 3482.4,2605.4 3475.5,2601.6 3467.2,2601.4 3456.2,2601.9 3447.9,2602.3 3442.4,2602.8 3436.9,2603.4 3430,2606.7 3428.7,2606.8 3416.3,2608 3408,2606.1 3398.3,2608.7 3390.1,2611 3379.1,2612.3 3376.3,2612.8 3365.3,2614.5 3362.5,2615 3354.3,2615.5 3346,2616 3341.9,2616.9 3336.4,2618.1 3332.2,2618.1 3326.7,2618.1 3321.2,2614.9 3315.7,2608.8 3310.2,2602.6 3308.8,2602.4 3306.1,2602.2 3299.2,2601.6 3297.8,2601.5 3288.2,2600.7 3286.8,2600.6 3279.9,2600 3278.5,2599.8 3271.6,2599.3 3268.9,2599 3262,2598.4 3252.3,2573.6 3237.2,2573.6 3233.1,2573.6 3227.5,2573.7 3222,2583.9 3217.9,2591.5 3216.5,2586.2 3212.4,2570.6 3211,2565.4 3208.3,2564.7 3200,2562.6 3184,2564.1 3178.5,2564.6 3170.2,2565.5 3167.5,2575.4 3162,2595.6 3156.5,2595.7 3151,2595.7 3142.7,2585.3 3139.9,2581.9 3134.4,2579.1 3128.9,2576.4 3123.4,2586.1 3117.9,2595.7 3115.2,2595.7 3106.9,2595.7 3095.9,2603.8 3089,2608.9 3080.7,2614.9 3079.3,2610.9 3068.3,2579.1 3062.8,2578.2 3051.8,2576.4 3043.5,2565.3 3042.1,2563.5 3035.3,2554.4 3033.9,2554.1 3024.2,2552.5 3021.5,2552.1 3018.7,2551.6 3013.2,2556.3 3005,2563.4 2999.4,2568.3 2996.7,2578.8 2985.7,2621.7 2978.8,2616.8 2969.1,2616.6 2958.1,2618.6 2944.4,2621.3 2933.3,2622.9 2903,2622.9 2878.2,2622.9 2872.7,2622.6 2867.2,2622.3 2859,2621.3 2847.9,2620.1 2834.2,2619.1 2831.4,2619.1 2817.6,2619.3 2809.4,2619.2 2806.6,2619.1 2798.3,2618.1 2790.1,2618.1 2781.8,2618.6 2779.1,2618.9 2770.8,2619.6 2765.3,2620 2757,2620.6 2748.8,2620.8 2732.2,2621.8 2710.2,2621.9 2701.9,2622.9 2674.4,2622.9 2666.1,2622.2 2600,2621.8 2586.8,2621.4 2573,2622.7 2539.9,2622.6 2528.9,2621.6 2515.2,2621.6 2495.9,2622.9 2446.3,2623.2 2435.3,2625 2391.2,2623.9 2380.2,2622.9 2352.6,2622.7 2341.6,2622.3 2330.6,2621.1 2319.6,2620.3 2303,2620.4 2289.3,2620.1 2278.2,2621.1 2250.7,2620.9 2239.7,2622.3 2231.4,2622.3 2223.1,2622.9 2214.9,2622.3 2203.9,2623.2 2192.8,2623.2 2179.1,2622.8 2170.8,2623.2 2151.5,2623.1 2143.3,2622.1 2121.2,2622.1 2110.2,2622.9 2040,2624.2 1836.7,2624.2 1831.2,2623.3 1821.5,2623.3 1817.4,2624.2 1732,2624.2 1726.5,2623.3 1721,2624.2 1440,2624 1209.3,2623.7 1198.3,2622.1 1165.3,2622.1 1154.2,2622.4 1102.8,2622.5 1080.8,2623.9 698.4,2624 694.5,2624" fill="#dd8452" fill-opacity="0.2" stroke="#dd8452" stroke-opacity="0.2" stroke-width="8.3" stroke-linejoin="round"/>
<polygon points="694.5,2623 698.4,2623 746.5,2622.1 757.5,2601.6 775.9,2601.5 786.9,2608.7 845.7,2608.7 860.4,2620.6 1301.2,2620.6 1337.9,2611.1 1374.6,2611.1 1411.3,2601.6 1440,2598.6 1473.1,2599.9 1508.9,2610.7 1550.2,2599.9 1591.5,2596.3 1630.1,2596.3 1638.3,2589.2 1674.2,2589.2 1685.2,2607.1 1693.4,2607.1 1704.5,2591 1715.5,2589.2 1732,2589.2 1745.8,2594.5 1759.6,2587.4 1778.8,2587.4 1788.5,2580.2 1798.1,2590.9 1811.9,2594.6 1825.7,2607 1836.7,2587.4 1850.5,2587.4 1857.4,2594.5 1872.5,2578.4 1886.3,2585.6 1894.5,2583.8 1911.1,2560.5 1922.1,2558.8 1929,2580.2 1949.6,2580.2 1963.4,2598.1 1971.7,2598.1 1979.9,2585.7 1991,2585.6 2002,2598.1 2010.2,2598.1 2018.5,2585.6 2040,2568.1 2041.3,2568.1 2053.7,2550.8 2055.1,2548.8 2064.7,2544.7 2074.4,2565.4 2075.8,2565.4 2085.4,2565.4 2095,2547.4 2096.4,2544.7 2103.3,2546.1 2110.2,2576.4 2141.9,2576.5 2152.9,2609.4 2159.8,2609.4 2170.8,2606.7 2181.8,2606.7 2192.8,2609.4 2202.5,2609.3 2209.4,2568 2220.4,2526.8 2234.2,2521.3 2246.6,2507.5 2256.2,2510.3 2264.5,2526.8 2278.2,2515.8 2294.8,2502.2 2304.4,2559.8 2311.3,2565.4 2323.7,2551.6 2340.2,2559.9 2349.9,2535 2359.5,2526.8 2371.9,2535.1 2396.7,2535.1 2407.7,2526.8 2416,2512.9 2418.7,2494 2421.5,2474.4 2425.6,2470 2435.3,2459.4 2436.6,2458 2446.3,2479.9 2457.3,2455.2 2465.6,2436.5 2468.3,2430.4 2473.8,2430.4 2476.6,2430.4 2483.5,2439.6 2484.8,2441.3 2494.5,2422.2 2495.9,2429.8 2504.1,2474.3 2512.4,2474.5 2515.2,2487.5 2520.7,2513.1 2524.8,2524.1 2528.9,2535 2531.7,2536.1 2544.1,2540.7 2553.7,2573.6 2562,2573.6 2570.2,2557.2 2577.1,2527 2584,2499.3 2600,2507.5 2616.5,2526.8 2626.2,2502 2627.5,2501.8 2635.8,2500.5 2644.1,2499.3 2646.8,2502.7 2655.1,2513 2666.1,2496.5 2674.4,2489.6 2682.6,2501.9 2696.4,2477.3 2699.2,2476.7 2710.2,2474.5 2712.9,2474.5 2719.8,2474.5 2729.5,2485.4 2739.1,2470.4 2740.5,2468.2 2748.8,2455.2 2757,2452.4 2765.3,2449.7 2766.7,2452.8 2776.3,2474.4 2787.3,2463.5 2790.1,2463.4 2801.1,2463.4 2812.1,2435.9 2814.9,2435.4 2820.4,2434.6 2825.9,2448.3 2828.7,2455.1 2831.4,2451.5 2836.9,2444.2 2838.3,2444.2 2839.7,2444.2 2845.2,2444.2 2847.9,2454.4 2856.2,2485.5 2865.8,2455.3 2867.2,2455.6 2875.5,2457.9 2878.2,2455.9 2886.5,2449.7 2893.4,2441.8 2894.8,2440.2 2896.1,2438.7 2900.3,2436.9 2905.8,2434.5 2909.9,2426.7 2919.6,2408.5 2927.8,2430.3 2936.1,2397.3 2938.8,2386.5 2945.7,2386.3 2947.1,2386.3 2958.1,2402.8 2960.9,2395.6 2971.9,2367 2982.9,2405.5 2985.7,2404.9 2992.6,2403.2 2993.9,2402.8 2996.7,2384.9 3000.8,2358.2 3005,2331.1 3007.7,2321.2 3013.2,2301 3017.4,2308.2 3018.7,2310.5 3024.2,2320.1 3027,2292.6 3029.8,2263.9 3031.7,2214.5 3032.5,2195.7 3035.8,2118 3038,2103.2 3039.9,2090.5 3045.5,2057.1 3048.2,2054.4 3049,2057 3052.3,2068 3056.5,2088.7 3057.3,2085 3058.7,2078.4 3060.6,2069.6 3066.1,2070.9 3068.3,2081.1 3070.2,2090 3076.6,2128.3 3077.1,2131.3 3079.3,2142.3 3082.6,2158.8 3089,2210.7 3089.5,2214.7 3095.9,2215 3096.4,2215 3097.2,2212.9 3103.3,2196.3 3104.1,2199 3108.8,2214.9 3112.4,2215 3116.5,2215 3122,2215 3123.4,2215 3130.3,2215 3138.6,2215 3146.8,2215 3148.2,2215 3159.2,2215 3164.2,2215 3165.3,2214.9 3170.2,2189.9 3173,2175.7 3173.6,2172.6 3178.5,2144.6 3183.2,2117.7 3184,2114.4 3190.1,2088.8 3192.3,2081.8 3194.9,2073.7 3199.9,2093.5 3200,2095.3 3205.5,2194.4 3208.3,2182.7 3211,2171.2 3216.5,2147.8 3224.8,2192.2 3226.2,2199.7 3227.5,2206.7 3234.4,2162.4 3235.8,2153.3 3242.7,2160.1 3244.1,2161.5 3251,2168.4 3252.3,2169.7 3260.6,2145 3263.4,2136.9 3267.5,2163.6 3268.9,2172.3 3274.4,2137.9 3279.9,2103.6 3285.4,2061.1 3289.5,2029.5 3296.4,2054 3303.3,2035.7 3304.7,2032.2 3311.6,2114.6 3312.9,2112.4 3319.8,2100.5 3321.2,2098.1 3326.7,2008.1 3328.1,1985.2 3332.2,2014.5 3337.7,2053.8 3344.6,1996.9 3346,1985.2 3352.9,1956.1 3354.3,1950.2 3357,1938.8 3358.4,1932.8 3363.9,1844.9 3365.3,1822.6 3372.2,1788.1 3376.3,1767.6 3379.1,1756.5 3381.8,1745.9 3387.3,1724.1 3388.7,1752 3392.8,1835.7 3394.2,1836.4 3397,1836 3398.3,1819.9 3403.9,1751.6 3412.1,1858.2 3417.6,1809.1 3425.9,1850.3 3428.7,1910.8 3431.4,1969.1 3432.8,1998.9 3439.7,1973.6 3441,1968.8 3443.8,1967.5 3447.9,1965.9 3456.2,1908 3459,1888.3 3464.5,1830.5 3468.6,1781.3 3471.3,1794.3 3475.5,1814.3 3478.2,1799.9 3483.7,1770.6 3487.9,1786.9 3493.4,1808.8 3496.1,1798 3498.9,1786.8 3500.3,1781.5 3507.2,1822.3 3514,1767.2 3520.9,1711.2 3522.3,1699.9 3529.2,1698.2 3537.5,1696.3 3541.6,1695.4 3547.1,1694.1 3552.6,1692.9 3558.1,1705.2 3566.4,1682.9 3569.1,1574.9 3570.5,1566.3 3573.3,1552.6 3574.7,1565.9 3576,1578.2 3581.5,1630.5 3585.7,1657.5 3588.4,1674.8 3589.8,1674 3591.2,1673.1 3596.7,1669.4 3599.4,1643.3 3600.8,1629.8 3605,1589.4 3607.7,1578.6 3610.5,1567.6 3616,1580.8 3618.7,1522.8 3620.1,1492.7 3621.5,1462.8 3627,1446.4 3633.9,1595 3636.6,1589.6 3638,1586.8 3639.4,1583.8 3640.8,1536.2 3643.5,1444.4 3649,1457.2 3650.4,1444.6 3654.5,1406.3 3657.3,1380.2 3662.8,1352.7 3668.3,1310.6 3669.7,1299.8 3671.1,1289.6 3676.6,1352.5 3684.8,1296.5 3687.6,1352.1 3689,1380.5 3693.1,1440.6 3704.1,1363.9 3709.6,1411.1 3712.4,1435.3 3715.2,1461.1 3719.3,1498.5 3723.4,1448.1 3726.2,1413.7 3728.9,1380.5 3733.1,1317.6 3734.4,1298.1 3735.8,1263 3738.6,1192.2 3739.9,1159.3 3744.1,1097.2 3745.5,1076.7 3746.8,1057.6 3748.2,1037.1 3752.3,1102.4 3753.7,1124.8 3756.5,1017.2 3760.6,945.4 3762,921.8 3764.7,1019 3770.2,1004 3771.6,1021.4 3775.8,1076.1 3778.5,1116.6 3784,1199.1 3785.4,1208.4 3789.5,1235.1 3790.9,1216.1 3795,1158.7 3800,1163.6 3801.2,1229.5 3808,1175.1 3813.6,1193.2 3814.9,1256.4 3816.3,1324.4 3817.7,1370.8 3819.1,1417 3820.4,1459.9 3821.8,1460.1 3828.7,1453.2 3834.2,1447.7 3837,1445.1 3839.7,1462 3842.5,1479.6 3845.2,1517.4 3845.2,1869.3 3842.5,1859.9 3839.7,1850.1 3837,1840.6 3834.2,1856.5 3828.7,1888.1 3821.8,1927.8 3820.4,1934.4 3819.1,1899.9 3817.7,1862.8 3816.3,1861.2 3814.9,1859.8 3813.6,1858.5 3808,1821.7 3801.2,1883.4 3800,1894.3 3795,1909.4 3790.9,1921.7 3789.5,1910.9 3785.4,1879 3784,1868.1 3778.5,1825.4 3775.8,1816.4 3771.6,1802.4 3770.2,1798.2 3764.7,1836.7 3762,1855.6 3760.6,1865.4 3756.5,1894.1 3753.7,1835.1 3752.3,1806.2 3748.2,1810.3 3746.8,1813.6 3745.5,1894.2 3744.1,1895.7 3739.9,1891.5 3738.6,1890.2 3735.8,1918.5 3734.4,1932.9 3733.1,1946.2 3728.9,2043.1 3726.2,2052.6 3723.4,2062.2 3719.3,2022.5 3715.2,1982.9 3712.4,1996.9 3709.6,2011.6 3704.1,2040.1 3693.1,1979.6 3689,1957 3687.6,1949.4 3684.8,2012.7 3676.6,2015.5 3671.1,1973.4 3669.7,1962.7 3668.3,1952.3 3662.8,1992.1 3657.3,2032 3654.5,2069 3650.4,2122.9 3649,2118.5 3643.5,2101.2 3640.8,2092.7 3639.4,2122.8 3638,2153 3636.6,2130.9 3633.9,2088.4 3627,1979.7 3621.5,1986.3 3620.1,1988.1 3618.7,2005.3 3616,2038.4 3610.5,2106 3607.7,2116.7 3605,2126.7 3600.8,2142.5 3599.4,2160.3 3596.7,2194.5 3591.2,2139.6 3589.8,2162 3588.4,2184.9 3585.7,2228.9 3581.5,2231.4 3576,2234.1 3574.7,2234.8 3573.3,2245.2 3570.5,2266.7 3569.1,2277.4 3566.4,2298.1 3558.1,2252 3552.6,2221.6 3547.1,2219.9 3541.6,2218.3 3537.5,2242.9 3529.2,2292.6 3522.3,2202.9 3520.9,2215.6 3514,2234.3 3507.2,2161.4 3500.3,2087.4 3498.9,2097.2 3496.1,2117.7 3493.4,2137.5 3487.9,2177.9 3483.7,2147 3478.2,2106 3475.5,2080.1 3471.3,2040.3 3468.6,2040.3 3464.5,2040.3 3459,2084 3456.2,2106.4 3447.9,2083 3443.8,2090.6 3441,2095.7 3439.7,2098.1 3432.8,2260.5 3431.4,2131.3 3428.7,2172.6 3425.9,2215.4 3417.6,2232.1 3412.1,2243 3403.9,2205.9 3398.3,2180.3 3397,2167.1 3394.2,2138.7 3392.8,2124.5 3388.7,2083 3387.3,2087.6 3381.8,2105.7 3379.1,2114.5 3376.3,2120.7 3372.2,2129.8 3365.3,2117.4 3363.9,2117.9 3358.4,2119.7 3357,2120 3354.3,2105.6 3352.9,2098.2 3346,2153.8 3344.6,2165.1 3337.7,2220.9 3332.2,2265.3 3328.1,2298.1 3326.7,2309.3 3321.2,2353.3 3319.8,2364.5 3312.9,2419.4 3311.6,2419.6 3304.7,2420.7 3303.3,2421 3296.4,2422.1 3289.5,2411.2 3285.4,2421.7 3279.9,2435.9 3274.4,2435.9 3268.9,2435.9 3267.5,2435.9 3263.4,2435.9 3260.6,2435.9 3252.3,2435.9 3251,2435.9 3244.1,2435.9 3242.7,2425.3 3235.8,2372.5 3234.4,2368.9 3227.5,2351.2 3226.2,2347.8 3224.8,2341.9 3216.5,2306.7 3211,2353.1 3208.3,2336.3 3205.5,2318.8 3200,2284.4 3199.9,2284.3 3194.9,2281.8 3192.3,2280.4 3190.1,2279.3 3184,2276.2 3183.2,2275.8 3178.5,2273.3 3173.6,2268.4 3173,2267.8 3170.2,2265.3 3165.3,2281.2 3164.2,2284.8 3159.2,2301 3148.2,2339.5 3146.8,2346.3 3138.6,2386.2 3130.3,2358.8 3123.4,2384.1 3122,2388.9 3116.5,2365.3 3112.4,2347.8 3108.8,2323.8 3104.1,2292.4 3103.3,2287.1 3097.2,2246.4 3096.4,2241.1 3095.9,2237.8 3089.5,2240.7 3089,2241 3082.6,2244.2 3079.3,2245.9 3077.1,2251.4 3076.6,2252.7 3070.2,2268.7 3068.3,2273.4 3066.1,2274.5 3060.6,2277.2 3058.7,2278.2 3057.3,2278.9 3056.5,2288.2 3052.3,2337.2 3049,2375.4 3048.2,2377.4 3045.5,2384.1 3039.9,2398.1 3038,2402.9 3035.8,2413.9 3032.5,2430.4 3031.7,2434.4 3029.8,2443.9 3027,2457.9 3024.2,2448.6 3018.7,2430.5 3017.4,2433.1 3013.2,2441.5 3007.7,2452.5 3005,2457.9 3000.8,2471.8 2996.7,2485.5 2993.9,2477.1 2992.6,2473.2 2985.7,2452.5 2982.9,2447.4 2971.9,2427.6 2960.9,2434.2 2958.1,2435.9 2947.1,2435.9 2945.7,2438.7 2938.8,2452.5 2936.1,2457.9 2927.8,2488.2 2919.6,2469 2909.9,2485.5 2905.8,2492.5 2900.3,2502 2896.1,2529.2 2894.8,2537.6 2893.4,2537.8 2886.5,2537.8 2878.2,2537.8 2875.5,2537.8 2867.2,2537.8 2865.8,2536.2 2856.2,2525.4 2847.9,2535 2845.2,2531.4 2839.7,2524.1 2838.3,2525.4 2836.9,2526.8 2831.4,2532.3 2828.7,2535 2825.9,2537.8 2820.4,2541.3 2814.9,2544.7 2812.1,2543.3 2801.1,2537.8 2790.1,2526.8 2787.3,2520.7 2776.3,2496.5 2766.7,2489.3 2765.3,2488.2 2757,2484.1 2748.8,2480 2740.5,2502 2739.1,2503.4 2729.5,2513 2719.8,2503.4 2712.9,2496.6 2710.2,2499.8 2699.2,2513 2696.4,2517.2 2682.6,2537.9 2674.4,2548.8 2666.1,2559.9 2655.1,2555.9 2646.8,2553 2644.1,2552 2635.8,2549 2627.5,2546.2 2626.2,2548.4 2616.5,2565.4 2600,2568.1 2584,2573.3 2577.1,2583 2570.2,2598.4 2562,2604.2 2553.7,2604.1 2544.1,2591.7 2531.7,2590.7 2528.9,2588.3 2524.8,2584.9 2520.7,2578.7 2515.2,2570.5 2512.4,2569.7 2504.1,2567.5 2495.9,2552.2 2494.5,2552.4 2484.8,2554.7 2483.5,2555 2476.6,2557.1 2473.8,2557.9 2468.3,2556.6 2465.6,2556 2457.3,2564.2 2446.3,2575.2 2436.6,2565.9 2435.3,2564.7 2425.6,2569.5 2421.5,2581 2418.7,2588.7 2416,2587.8 2407.7,2584.9 2396.7,2588.7 2371.9,2588.7 2359.5,2585.9 2349.9,2588.7 2340.2,2598.4 2323.7,2595.5 2311.3,2600.3 2304.4,2598.4 2294.8,2576.3 2278.2,2581 2264.5,2584.9 2256.2,2578.1 2246.6,2577.2 2234.2,2582.9 2220.4,2584.9 2209.4,2600.3 2202.5,2617.6 2192.8,2617.7 2181.8,2611.9 2170.8,2611.9 2159.8,2617.7 2152.9,2617.7 2141.9,2603.2 2110.2,2603.2 2103.3,2597.1 2096.4,2590.9 2095,2589.7 2085.4,2596.5 2075.8,2596.5 2074.4,2595.6 2064.7,2589.7 2055.1,2592.2 2053.7,2592.6 2041.3,2604.2 2040,2604.3 2018.5,2603.3 2010.2,2610.1 2002,2610.1 1991,2603.3 1979.9,2603.4 1971.7,2610.1 1963.4,2610.1 1949.6,2600.4 1929,2600.4 1922.1,2588.9 1911.1,2589.8 1894.5,2602.4 1886.3,2603.3 1872.5,2599.5 1857.4,2608.1 1850.5,2604.3 1836.7,2604.3 1825.7,2614.9 1811.9,2608.1 1798.1,2606.2 1788.5,2600.4 1778.8,2604.3 1759.6,2604.3 1745.8,2608.1 1732,2605.3 1715.5,2605.3 1704.5,2606.2 1693.4,2614.9 1685.2,2614.9 1674.2,2605.3 1638.3,2605.3 1630.1,2609.1 1591.5,2609.1 1550.2,2611 1508.9,2616.8 1473.1,2611 1440,2610.3 1411.3,2611.9 1374.6,2617 1337.9,2617 1301.2,2622.2 860.4,2622.2 845.7,2615.8 786.9,2615.8 775.9,2611.9 757.5,2611.9 746.5,2623 698.4,2623.5 694.5,2623.5" fill="#55a868" fill-opacity="0.2" stroke="#55a868" stroke-opacity="0.2" stroke-width="8.3" stroke-linejoin="round"/>
<polygon points="694.5,2610.4 698.4,2610.4 772.2,2609 786.9,2603.1 834.7,2603 845.7,2598.3 875.1,2598.3 878.8,2598.4 886.1,2610 889.8,2616.5 926.5,2616.5 1058.7,2619.6 1080.8,2613.4 1099.1,2610.2 1154.2,2610.2 1191,2619.6 1264.4,2613.4 1286.5,2579.2 1312.2,2579.2 1330.5,2586.5 1356.3,2562.6 1365.4,2562.6 1378.3,2597.5 1411.3,2559 1440,2563.4 1453.8,2579.3 1467.5,2579.3 1475.8,2568 1478.6,2564.2 1486.8,2564.2 1488.2,2564.2 1499.2,2584.8 1508.9,2598.5 1511.6,2593.8 1519.9,2579.3 1522.6,2579 1533.7,2577.9 1544.7,2572.4 1561.2,2572.4 1564,2572.4 1572.2,2577.6 1575,2579.3 1583.3,2579.3 1591.5,2579.3 1594.3,2579.2 1601.2,2559.2 1608,2539.5 1609.4,2540.9 1617.7,2550.4 1619.1,2551.4 1628.7,2558.6 1630.1,2556.7 1638.3,2544.9 1674.2,2543.6 1683.8,2564.2 1685.2,2563.8 1693.4,2561.8 1694.8,2561.4 1703.1,2575.6 1704.5,2577.7 1712.7,2536.7 1722.4,2508.8 1723.7,2505.1 1732,2520.1 1745.8,2520.1 1751.3,2515.9 1756.8,2511.8 1766.4,2513.7 1770.6,2514.6 1784.4,2528.4 1788.5,2530.4 1795.4,2533.9 1796.7,2536.8 1806.4,2558.7 1816,2577.9 1825.7,2561.4 1839.4,2564.1 1847.7,2570.3 1850.5,2572.4 1861.5,2572.4 1869.8,2547.5 1872.5,2539.4 1878,2503.7 1883.5,2467.9 1887.7,2449.7 1891.8,2431.9 1898.7,2427.3 1900.1,2426.5 1908.3,2445.7 1916.6,2478.8 1919.3,2479 1930.4,2480.1 1949.6,2474.6 1963.4,2473.3 1968.9,2506.2 1971.7,2521.1 1977.2,2550.4 1982.7,2558.3 1986.8,2564.1 1993.7,2554.3 1996.5,2550.3 2007.5,2506.3 2015.8,2504.2 2018.5,2503.6 2029.5,2495.3 2035,2440.6 2036.4,2432.6 2040,2412.6 2045.5,2391.9 2055.1,2405.6 2063.4,2405.6 2068.9,2405.5 2071.6,2401.5 2079.9,2389 2085.4,2380.8 2093.7,2368.4 2099.2,2362.9 2103.3,2358.8 2112.9,2360 2114.3,2360.1 2121.2,2402.8 2132.2,2463.3 2140.5,2466.2 2150.1,2440.9 2151,2438.7 2162.5,2463.4 2170.8,2482.7 2179.1,2488.3 2181.8,2493 2190.1,2507.5 2191.5,2505 2198.3,2493.1 2201.1,2488.2 2209.4,2493 2210.7,2493.7 2220.4,2502 2232.8,2464.9 2239.7,2481.6 2242.4,2488.2 2250.7,2424.4 2252.1,2413.7 2260.3,2366.8 2261.7,2358.8 2270,2382.5 2271.3,2386.2 2279.6,2393.8 2286.5,2400.1 2296.1,2364.1 2297.5,2358.8 2305.8,2331.2 2312.7,2317.5 2320.9,2336.6 2329.2,2267.9 2338.8,2276.1 2355.4,2273.4 2371.9,2284.4 2387.1,2269.2 2388.4,2267.9 2396.7,2300.9 2398.1,2306.2 2406.3,2336.9 2407.7,2342.2 2413.2,2371.5 2416,2386.5 2422.9,2446.3 2424.2,2457.6 2431.1,2479.5 2433.9,2488.2 2440.8,2486.3 2443.5,2485.5 2451.8,2513 2461.4,2491.4 2462.8,2488.3 2468.3,2495.1 2473.8,2502 2484.8,2515.7 2487.6,2496.5 2489,2486.7 2493.1,2458 2495.9,2437 2504.1,2375.5 2505.5,2367.8 2511,2337.5 2515.2,2314.6 2517.9,2311 2523.4,2303.7 2524.8,2294 2526.2,2284.2 2528.9,2265.3 2530.6,2180.8 2531.7,2181 2534.4,2181.5 2537.5,2182 2539.9,2169.3 2546.8,2132.8 2547.1,2131.2 2554,2169.7 2555.1,2149.5 2558.1,2094.5 2559.2,2094 2562,2094 2568.9,2094 2570.2,2094 2570.5,2094 2576,2136.4 2577.1,2145.2 2578.5,2156.4 2580.2,2169.8 2586.8,2186.3 2588.4,2190.3 2595,2186.5 2595.3,2186.3 2600,2237.5 2611,2248.5 2616.5,2228.5 2619.3,2218.2 2626.2,2202.4 2627.5,2199.4 2634.4,2183.6 2641.3,2212.7 2642.7,2211.1 2648.2,2204.7 2653.7,2198.3 2656.5,2195 2659.2,2191.8 2666.1,2173.5 2667.5,2169.7 2674.4,2164.4 2675.8,2173.4 2682.6,2217.3 2684,2226.4 2690.9,2209.8 2699.2,2189.6 2700.6,2186.6 2706.1,2217.4 2708.8,2232.5 2710.2,2240.3 2717.1,2244.9 2718.5,2245.7 2725.3,2225.3 2728.1,2231 2733.6,2242.6 2737.7,2251.2 2740.5,2258.1 2741.9,2261.5 2750.1,2281.5 2757,2235.9 2758.4,2226.5 2765.3,2242.3 2768,2248.5 2774.9,2239.4 2776.3,2237.6 2779.1,2245.9 2784.6,2262.4 2787.3,2270.5 2798.3,2267.9 2805.2,2289.8 2806.6,2283.1 2809.4,2269.1 2813.5,2248.6 2817.6,2212.5 2824.5,2151.7 2825.9,2139.4 2834.2,2108.1 2842.4,2165.5 2849.3,2103.7 2854.8,2110.2 2856.2,2111.9 2859,2101.7 2871.3,2057 2878.2,2084.2 2879.6,2089.8 2886,2014.5 2886.5,2008.6 2892,2024.2 2893.4,2028.1 2894.8,2032.2 2901.7,2066.4 2911.3,2062.3 2914,2072.1 2918.2,2087.1 2926.4,2087.1 2927.3,2078.1 2930.6,2043.5 2932,2029.2 2933.3,2026.1 2936.1,2019.6 2940.2,2010 2940.4,2010.2 2941.6,2011.4 2945.7,2015.5 2947,2016.8 2948.5,2018.1 2952.6,1981.2 2954.9,1960.5 2955.4,1956.8 2960.9,2056.9 2961.1,2058.5 2962.8,2071.4 2963.6,2074.2 2968.1,2089.2 2969,2099.2 2970.5,2116 2972.5,2138.4 2976,2154.7 2977.8,2163.1 2981.5,2176.8 2982.9,2182 2983.9,2185.7 2989.2,2166.4 2991.1,2163.9 2993.9,2160.2 2994.4,2159.5 2996.2,2171.1 2999.4,2192.4 2999.7,2194.4 3001.5,2205.3 3002.2,2209.5 3005,2226.3 3010.8,2266 3011,2267.4 3011.1,2268.1 3019,2238.6 3020.1,2234.8 3026.9,2211.4 3028.4,2215.5 3035.7,2236.6 3037.5,2228 3038,2225.6 3044.9,2191.7 3045.4,2189.1 3049.8,2131.3 3051.8,2124.6 3052.4,2122.6 3058.7,2131.4 3061.2,2134.8 3065.6,2108.4 3066.5,2103.1 3075.2,2083.3 3078.8,2059.4 3080.7,2040.4 3085.8,2038.4 3091.7,2031.7 3092.8,2029.8 3093.1,2029.3 3098.1,2079.1 3098.6,2084.1 3105.1,2075.3 3106.9,2072.8 3112.4,2065.1 3113.8,2065.1 3113.9,2065.1 3120.7,2064.9 3121.8,2060.5 3122,2059.7 3130.6,2025.3 3131.7,2021 3133.1,2019.4 3139.7,2011.8 3139.9,2011.6 3141.3,2010 3149.6,1983.8 3151,1988.3 3156.5,2005.7 3157.9,2009.8 3164.7,1992.4 3166.1,1988.8 3167.5,1985.1 3171.6,1931.8 3175.8,1877.7 3177.1,1875.6 3181.3,1868.7 3186.8,1860.1 3189.5,1889.1 3192.3,1918.9 3200,1843.3 3206.9,1913.5 3208.3,1927.3 3215.2,1923.4 3216.5,1922.6 3217.9,1921.8 3224.8,1965.9 3233.1,1933.4 3234.4,1928.3 3239.9,1906.8 3248.2,2015.4 3255.1,1952.1 3257.9,1964.3 3263.4,1987.9 3268.9,1979.1 3270.2,1977 3274.4,1986.6 3278.5,1996.2 3279.9,1985.9 3285.4,1945.2 3293.7,1969.7 3296.4,1942.3 3303.3,1872.3 3306.1,1820.1 3307.4,1795.8 3311.6,1731.8 3315.7,1669.5 3321.2,1634.3 3322.6,1625.5 3329.5,1710.5 3336.4,1627.5 3337.7,1606.2 3343.3,1515.5 3346,1530.3 3348.8,1545.6 3354.3,1558.1 3355.6,1561.1 3358.4,1567.5 3362.5,1567.5 3363.9,1567.5 3372.2,1625.7 3377.7,1710.8 3379.1,1709.9 3387.3,1704.9 3395.6,1699.7 3403.3,1669.5 3403.9,1672.2 3410.7,1704.1 3412.1,1710.7 3417.6,1730.5 3419,1735.5 3420.4,1724 3427.3,1666.6 3428.7,1662.9 3435.5,1644.8 3436.9,1625 3439.7,1584.7 3442.4,1545.8 3443.8,1531.7 3447.9,1490.7 3450.7,1462.7 3457.6,1398.5 3459,1419.7 3464.5,1502.8 3465.8,1502.3 3471.3,1500.5 3472.7,1500 3478.2,1442.6 3481,1413.2 3487.9,1349.8 3492,1340.6 3493.4,1337.5 3496.1,1342.5 3500.3,1350.2 3501.7,1352.5 3503,1347.6 3507.2,1332.3 3508.5,1343.5 3514,1390.8 3516.8,1421.1 3522.3,1480.8 3523.7,1495.9 3526.4,1504.8 3533.3,1527.5 3534.7,1505.4 3540.2,1416.3 3541.6,1420.3 3549.9,1446.5 3558.1,1493 3566.4,1614.3 3573.3,1567.5 3576,1562.1 3580.2,1554 3581.5,1563.3 3587.1,1603.4 3588.4,1612.8 3596.7,1592.9 3598.1,1588.7 3599.4,1548.8 3602.2,1463 3607.7,1412.3 3609.1,1399.5 3617.4,1411.3 3618.7,1413.2 3625.6,1344.6 3627,1349.1 3631.1,1363.2 3635.3,1377.1 3638,1351.2 3640.8,1324.3 3642.1,1311.8 3646.3,1313 3647.7,1313.5 3649,1314.1 3654.5,1353.4 3655.9,1363.5 3660.1,1323.6 3662.8,1297.6 3669.7,1245.6 3671.1,1235.8 3676.6,1352.8 3678,1363.5 3682.1,1394.9 3684.8,1415.6 3686.2,1403.2 3690.4,1364 3695.9,1404.3 3697.2,1413.8 3698.6,1424.1 3704.1,1354.2 3705.5,1336.2 3709.6,1313.2 3712.4,1297.6 3719.3,1332.1 3720.7,1338.6 3727.5,1289.6 3734.4,1341.4 3735.8,1349 3744.1,1393.8 3749.6,1346.6 3753.7,1311.5 3759.2,1275.7 3764.7,1256 3774.4,1221.7 3779.9,1267.1 3781.3,1278.6 3783.3,1294.9 3788.2,1303.9 3791.5,1309.9 3792.3,1310.3 3799.8,1314.1 3800,1314.1 3802.5,1314.1 3808,1314.1 3809.4,1314.1 3816.3,1242.2 3819.1,1213.1 3824.6,1196.6 3827.3,1188.5 3834.2,1184.3 3835.6,1198.6 3838.4,1227.8 3839.7,1250 3842.5,1297.7 3843.9,1309.6 3846.6,1332.5 3848,1344.4 3849.4,1344.4 3849.4,1965.9 3848,1965.9 3846.6,1966 3843.9,1979.5 3842.5,1986.5 3839.7,2000.2 3838.4,1992.4 3835.6,1975.6 3834.2,1976.9 3827.3,1983.7 3824.6,1973.2 3819.1,1951.9 3816.3,1941.1 3809.4,1956.1 3808,1959.2 3802.5,1975.2 3800,1982.4 3799.8,1983.9 3792.3,2037.4 3791.5,2016.8 3788.2,1929.9 3783.3,1951.4 3781.3,1960.7 3779.9,1967.2 3774.4,1955.8 3764.7,1935.9 3759.2,1983.9 3753.7,2031.9 3749.6,2067.7 3744.1,2043.1 3735.8,2070.4 3734.4,2054.6 3727.5,1976.8 3720.7,1957.7 3719.3,1960 3712.4,1972.1 3709.6,1976.9 3705.5,1973.6 3704.1,1972.5 3698.6,1968.1 3697.2,1967 3695.9,1965.9 3690.4,1956.5 3686.2,1949.1 3684.8,1934.2 3682.1,1905.4 3678,1861.6 3676.6,1879.2 3671.1,1951.8 3669.7,1947.5 3662.8,1924.7 3660.1,1955.3 3655.9,2002.9 3654.5,2018.3 3649,2021.9 3647.7,2022.8 3646.3,2023.7 3642.1,2015.4 3640.8,2012.8 3638,2007.2 3635.3,2003.1 3631.1,1996.8 3627,1990.7 3625.6,1987.7 3618.7,1972.9 3617.4,1970.1 3609.1,1985.4 3607.7,1988 3602.2,2029.3 3599.4,2050.1 3598.1,2055 3596.7,2060.2 3588.4,2091.1 3587.1,2084.3 3581.5,2055.6 3580.2,2060.5 3576,2076.4 3573.3,2105.8 3566.4,2180.7 3558.1,2164.1 3549.9,2114.9 3541.6,2172.5 3540.2,2162.4 3534.7,2122.9 3533.3,2118.2 3526.4,2095.3 3523.7,2090.7 3522.3,2088.3 3516.8,2078.8 3514,2068.2 3508.5,2047.3 3507.2,2042.3 3503,2026.3 3501.7,2018.2 3500.3,2009.4 3496.1,1983.2 3493.4,1966.3 3492,1957.5 3487.9,1894.6 3481,1937.5 3478.2,1955 3472.7,1968.2 3471.3,1971.5 3465.8,1984.7 3464.5,1987.8 3459,2063.3 3457.6,2082.6 3450.7,2074.1 3447.9,2070.6 3443.8,2077.5 3442.4,2079.8 3439.7,2084.3 3436.9,2094.7 3435.5,2100 3428.7,2125.5 3427.3,2127 3420.4,2133.9 3419,2135.3 3417.6,2136.9 3412.1,2172.1 3410.7,2180.2 3403.9,2093.2 3403.3,2087.6 3395.6,2018.3 3387.3,2026.3 3379.1,1966.2 3377.7,1965.9 3372.2,1965.9 3363.9,1965.9 3362.5,1965.7 3358.4,1948 3355.6,1935.8 3354.3,1930.2 3348.8,1921 3346,1916.3 3343.3,1902.8 3337.7,1875.5 3336.4,1890.9 3329.5,1972.5 3322.6,1949.9 3321.2,1945.3 3315.7,1964.9 3311.6,1979.6 3307.4,2026.6 3306.1,2041.2 3303.3,2034.9 3296.4,2018.2 3293.7,2012.1 3285.4,1993.4 3279.9,2025.1 3278.5,2024.1 3274.4,2021 3270.2,2029.4 3268.9,2032 3263.4,2058 3257.9,2084.1 3255.1,2089.9 3248.2,2103.6 3239.9,2032 3234.4,2027.6 3233.1,2026.5 3224.8,2067.8 3217.9,2028.4 3216.5,2020.4 3215.2,2013 3208.3,1989.9 3206.9,1985.2 3200,2012.7 3192.3,2039.1 3189.5,2048.5 3186.8,2042.2 3181.3,2029.3 3177.1,2039.7 3175.8,2042.9 3171.6,2092.9 3167.5,2142.1 3166.1,2158.9 3164.7,2175.2 3157.9,2164.3 3156.5,2162.1 3151,2153.3 3149.6,2160.8 3141.3,2206.8 3139.9,2214.6 3139.7,2215.7 3133.1,2246.1 3131.7,2252.6 3130.6,2257.7 3122,2148.1 3121.8,2145.5 3120.7,2152.9 3113.9,2199.8 3113.8,2199.7 3112.4,2197.2 3106.9,2187.3 3105.1,2184 3098.6,2154.8 3098.1,2152.5 3093.1,2112.6 3092.8,2110.2 3091.7,2106.1 3085.8,2084 3080.7,2108.1 3078.8,2117.1 3075.2,2124.4 3066.5,2141.8 3065.6,2147.1 3061.2,2173.5 3058.7,2170.5 3052.4,2163 3051.8,2167 3049.8,2180.4 3045.4,2241.8 3044.9,2244.5 3038,2279.7 3037.5,2282.3 3035.7,2278.5 3028.4,2262.7 3026.9,2259.7 3020.1,2282.4 3019,2286 3011.1,2308.1 3011,2308.3 3010.8,2308.9 3005,2285.8 3002.2,2274.7 3001.5,2271.9 2999.7,2241.8 2999.4,2237.7 2996.2,2250.7 2994.4,2241.2 2993.9,2238.6 2991.1,2223.7 2989.2,2223.8 2983.9,2224.5 2982.9,2234.8 2981.5,2238.6 2977.8,2248.6 2976,2253.4 2972.5,2248.6 2970.5,2245.8 2969,2245.5 2968.1,2248.7 2963.6,2265 2962.8,2262.7 2961.1,2257.9 2960.9,2256.5 2955.4,2214.8 2954.9,2211.5 2952.6,2229.3 2948.5,2234.8 2947,2236.8 2945.7,2239.6 2941.6,2248.6 2940.4,2247.3 2940.2,2248.2 2936.1,2274.8 2933.3,2293 2932,2306.5 2930.6,2321.1 2927.3,2355.4 2926.4,2364.1 2918.2,2329.8 2914,2312.2 2911.3,2300.9 2901.7,2270.8 2894.8,2296.1 2893.4,2301.3 2892,2306.4 2886.5,2294.3 2886,2293.2 2879.6,2279.1 2878.2,2276.1 2871.3,2278.6 2859,2282.9 2856.2,2283.9 2854.8,2284.5 2849.3,2328.5 2842.4,2353.4 2834.2,2405.3 2825.9,2370.2 2824.5,2364.2 2817.6,2339.5 2813.5,2340.5 2809.4,2341.5 2806.6,2342.3 2805.2,2349.8 2798.3,2386.4 2787.3,2397.4 2784.6,2400.1 2779.1,2405.6 2776.3,2401.4 2774.9,2399.3 2768,2389 2765.3,2384.4 2758.4,2372.5 2757,2377.7 2750.1,2403 2741.9,2442.8 2740.5,2449.6 2737.7,2443.5 2733.6,2434.3 2728.1,2422.1 2725.3,2426.1 2718.5,2435.8 2717.1,2432 2710.2,2412.3 2708.8,2408.3 2706.1,2393.9 2700.6,2364.5 2699.2,2366.6 2690.9,2380.6 2684,2392.3 2682.6,2394.5 2675.8,2378.1 2674.4,2379 2667.5,2383.9 2666.1,2384.9 2659.2,2389.9 2656.5,2391.8 2653.7,2405.2 2648.2,2431.8 2642.7,2432.3 2641.3,2432.5 2634.4,2433.3 2627.5,2458.1 2626.2,2461.6 2619.3,2480.6 2616.5,2488.3 2611,2493.8 2600,2504.8 2595.3,2502.8 2595,2502.7 2588.4,2499.9 2586.8,2499.3 2580.2,2499.3 2578.5,2499.3 2577.1,2503 2576,2506 2570.5,2520.6 2570.2,2521.4 2568.9,2525.1 2562,2544.7 2559.2,2544.6 2558.1,2544.5 2555.1,2544.4 2554,2544.3 2547.1,2544 2546.8,2544 2539.9,2543.6 2537.5,2543.5 2534.4,2543.3 2531.7,2539.7 2530.6,2538.2 2528.9,2536 2526.2,2532.4 2524.8,2522.7 2523.4,2512.9 2517.9,2474.5 2515.2,2474.5 2511,2474.8 2505.5,2566.7 2504.1,2566.7 2495.9,2566.7 2493.1,2576.4 2489,2590.8 2487.6,2595.7 2484.8,2598.5 2473.8,2609.5 2468.3,2615 2462.8,2615 2461.4,2615 2451.8,2591.4 2443.5,2587.1 2440.8,2585.7 2433.9,2585.6 2431.1,2585.6 2424.2,2587.3 2422.9,2587.6 2416,2579 2413.2,2575.5 2407.7,2567.8 2406.3,2565.9 2398.1,2565.4 2396.7,2564.9 2388.4,2561.6 2387.1,2561.1 2371.9,2564.4 2355.4,2558.7 2338.8,2558.6 2329.2,2554.3 2320.9,2566.8 2312.7,2560.1 2305.8,2568.8 2297.5,2571.7 2296.1,2572.2 2286.5,2577 2279.6,2572.2 2271.3,2575.9 2270,2576.5 2261.7,2571.1 2260.3,2570.3 2252.1,2580.5 2250.7,2582.3 2242.4,2591.7 2239.7,2594.8 2232.8,2591.9 2220.4,2598.7 2210.7,2597.4 2209.4,2597.2 2201.1,2597.2 2198.3,2597.3 2191.5,2603.4 2190.1,2602.9 2181.8,2599.6 2179.1,2599.5 2170.8,2599.1 2162.5,2596.2 2151,2591.8 2150.1,2591.4 2140.5,2596.2 2132.2,2596.2 2121.2,2585.1 2114.3,2578.3 2112.9,2577 2103.3,2577.6 2099.2,2577.9 2093.7,2579.5 2085.4,2581.8 2079.9,2582.9 2071.6,2584.7 2068.9,2583.6 2063.4,2581.3 2055.1,2581.3 2045.5,2577.9 2040,2575.1 2036.4,2588.6 2035,2590.8 2029.5,2599.2 2018.5,2599.2 2015.8,2599.2 2007.5,2601.1 1996.5,2606.1 1993.7,2607.4 1986.8,2608.3 1982.7,2608.8 1977.2,2606.9 1971.7,2605 1968.9,2602.1 1963.4,2596.3 1949.6,2594.9 1930.4,2595.8 1919.3,2595.3 1916.6,2593.7 1908.3,2588.6 1900.1,2586.5 1898.7,2586.2 1891.8,2587.7 1887.7,2588.6 1883.5,2592.3 1878,2597.3 1872.5,2603.1 1869.8,2605.9 1861.5,2610.3 1850.5,2610.3 1847.7,2610.3 1839.4,2609.6 1825.7,2608.4 1816,2613.6 1806.4,2607.9 1796.7,2602.6 1795.4,2603.3 1788.5,2606.9 1784.4,2606.5 1770.6,2605 1766.4,2604.5 1756.8,2604.5 1751.3,2604.5 1745.8,2605.1 1732,2606.4 1723.7,2603.5 1722.4,2603.1 1712.7,2609.8 1704.5,2616 1703.1,2617 1694.8,2612.9 1693.4,2612.2 1685.2,2613.2 1683.8,2612.8 1674.2,2609.8 1638.3,2609.8 1630.1,2611.7 1628.7,2611.7 1619.1,2611.7 1617.7,2611.2 1609.4,2607.9 1608,2608.5 1601.2,2611.7 1594.3,2612.1 1591.5,2612.2 1583.3,2616 1575,2616.1 1572.2,2616.1 1564,2614.6 1561.2,2614.1 1544.7,2614.1 1533.7,2615.6 1522.6,2616.1 1519.9,2616.8 1511.6,2619 1508.9,2618.4 1499.2,2616.5 1488.2,2613.1 1486.8,2612.7 1478.6,2612.7 1475.8,2612.7 1467.5,2615.1 1453.8,2615.1 1440,2613 1411.3,2612.2 1378.3,2619.2 1365.4,2612.8 1356.3,2612.8 1330.5,2617.3 1312.2,2616.7 1286.5,2616.7 1264.4,2621.8 1191,2623.1 1154.2,2621.2 1099.1,2621.2 1080.8,2621.8 1058.7,2623.1 926.5,2622.5 889.8,2622.5 886.1,2622.5 878.8,2619.5 875.1,2618 845.7,2618 834.7,2619.2 786.9,2619.2 772.2,2620.9 698.4,2620.9 694.5,2620.9" fill="#c44e52" fill-opacity="0.2" stroke="#c44e52" stroke-opacity="0.2" stroke-width="8.3" stroke-linejoin="round"/>
<polygon points="694.5,2624 698.4,2624 1220.3,2622.5 1235,2600.5 1264.4,2599 1301.2,2604.1 1337.9,2604.1 1356.3,2618.8 1440,2617.6 1481.3,2603.5 1508.9,2603.5 1528.2,2589.7 1583.3,2589.7 1610.8,2598 1627.3,2620 1732,2620 1740.3,2600.7 1809.1,2600.7 1818.8,2573.2 1829.8,2573.2 1839.4,2600.6 1891.8,2600.7 1908.3,2578.7 1920.7,2564.9 1933.1,2504.4 1979.9,2504.3 1992.3,2476.9 2004.7,2498.7 2022.6,2542.8 2029.5,2597.7 2040,2600.7 2048.2,2592.2 2060.6,2583.9 2088.2,2586.6 2099.2,2572.8 2118.5,2515 2126.7,2515 2137.7,2484.8 2146,2484.7 2154.3,2495.7 2176.3,2495.7 2187.3,2523.2 2195.6,2537.1 2203.9,2567.2 2213.5,2523.3 2222.6,2493 2232.8,2523.3 2242.4,2523.3 2260.3,2495.8 2271.3,2495.7 2289.3,2473.5 2299.7,2435.2 2308.5,2490 2316.8,2512.2 2327.8,2512.3 2337.5,2490.1 2347.7,2457.2 2356.7,2473.6 2367.8,2462.6 2378.8,2437.9 2387.1,2429.7 2396.7,2451.6 2406.3,2451.6 2416,2468.2 2425.6,2473.7 2433.9,2490.3 2443.5,2545.2 2454.5,2550.8 2464.2,2561.9 2473.8,2605.8 2493.1,2589.4 2504.1,2553.7 2515.2,2548.1 2549.6,2548 2559.2,2534.3 2568.9,2506.8 2578.5,2512.2 2589.5,2482 2600,2517.8 2606.9,2548 2616.5,2517.9 2626.2,2514.9 2635.8,2473.7 2645.5,2451.6 2655.1,2435.1 2666.1,2465.4 2674.4,2468.2 2684,2503.9 2693.7,2493 2703.3,2493 2712.9,2514.9 2721.2,2517.8 2733.6,2537 2752.9,2578.4 2761.2,2575.5 2769.4,2548.1 2779.1,2545.3 2790.1,2553.6 2817.6,2556.3 2831.4,2564.6 2856.2,2548.1 2867.2,2570.1 2896.1,2570.1 2905.8,2545.3 2930.6,2534.2 2943,2501.3 2952.6,2515 2962.3,2525.9 2971.9,2501.2 2985.7,2490.2 3000.8,2485.5 3007.7,2485.5 3018.7,2438.8 3029.8,2408.4 3038,2419.3 3039.4,2417.4 3049,2404 3051.8,2400.1 3068.3,2397.3 3079.3,2380.9 3080.7,2377.1 3087.6,2358.4 3089,2354.7 3098.6,2380.7 3116.5,2438.6 3124.8,2420 3127.5,2414 3145.5,2444 3155.1,2407.5 3159.2,2391.9 3164.7,2390 3167.5,2389 3175.8,2357.9 3178.5,2347.8 3186.8,2318.7 3189.5,2309.3 3200,2295.4 3211,2309.1 3212.4,2313 3224.8,2347.7 3234.4,2325.3 3241.3,2309.2 3251,2358.6 3260.6,2328.5 3268.9,2372 3271.6,2386.2 3278.5,2419 3282.6,2438.4 3288.2,2433.1 3290.9,2430.4 3296.4,2424.9 3297.8,2425.7 3307.4,2431.7 3310.2,2433.5 3318.5,2438.6 3319.8,2438.5 3328.1,2437.3 3339.1,2455.1 3347.4,2455.2 3357,2464.8 3365.3,2430.7 3368,2419.5 3376.3,2390.5 3379.1,2380.7 3390.1,2358.7 3392.8,2353.3 3402.5,2337.8 3406.6,2331.2 3414.9,2319.8 3417.6,2316.1 3432.8,2313.5 3434.2,2313.2 3442.4,2290 3452.1,2325.8 3461.7,2353.2 3470,2306.4 3481,2310.5 3483.7,2307.4 3489.3,2300.8 3501.7,2277.6 3503,2279.6 3511.3,2292.7 3519.6,2320.2 3520.9,2319 3538.8,2303.7 3541.6,2285.3 3544.4,2266.6 3547.1,2248.6 3558.1,2245.8 3566.4,2316 3576,2296.8 3577.4,2294 3580.2,2296.3 3585.7,2301 3595.3,2347.7 3603.6,2307.5 3605,2300.7 3613.2,2263.8 3621.5,2267.9 3631.1,2283 3638,2321.3 3640.8,2336.6 3649,2292.8 3660.1,2331.2 3668.3,2337.8 3669.7,2338.9 3673.8,2342.2 3678,2337.5 3687.6,2326.5 3695.9,2317 3697.2,2315.5 3712.4,2298.1 3713.8,2295 3723.4,2273.4 3726.2,2267.1 3734.4,2248.6 3735.8,2251.3 3744.1,2267.7 3751,2223.1 3752.3,2197.6 3753.7,2170.1 3764.7,2167 3769.5,2148.7 3773,2135.3 3774.4,2135.8 3781.3,2138.3 3781.9,2141.7 3784,2153.8 3792.3,2201.4 3792.9,2204.9 3799.8,2244.5 3800,2245 3801.2,2248 3809.4,2268.5 3810.8,2272 3819.1,2251.8 3820.4,2248.7 3828.7,2251.3 3831.5,2251.3 3831.5,2584.7 3828.7,2584.5 3820.4,2584.2 3819.1,2584.1 3810.8,2583.7 3809.4,2583.7 3801.2,2583.3 3800,2526.8 3799.8,2528.2 3792.9,2576.4 3792.3,2575.1 3784,2557.5 3781.9,2553 3781.3,2552.9 3774.4,2552.1 3773,2552 3769.5,2551.6 3764.7,2545.2 3753.7,2530.5 3752.3,2528.6 3751,2526.9 3744.1,2530.2 3735.8,2534.4 3734.4,2535.1 3726.2,2539.2 3723.4,2540.6 3713.8,2545.4 3712.4,2546.1 3697.2,2553.7 3695.9,2554.3 3687.6,2550.2 3678,2545.4 3673.8,2543.3 3669.7,2541.3 3668.3,2540.6 3660.1,2536.8 3649,2531.8 3640.8,2528.1 3638,2526.8 3631.1,2532.2 3621.5,2539.7 3613.2,2546.1 3605,2546.8 3603.6,2546.9 3595.3,2547.6 3585.7,2548.4 3580.2,2548.8 3577.4,2550.9 3576,2552 3566.4,2559.2 3558.1,2565.4 3547.1,2589.6 3544.4,2595.6 3541.6,2597.1 3538.8,2598.6 3520.9,2608.2 3519.6,2608.9 3511.3,2613.3 3503,2617.7 3501.7,2617 3489.3,2609.9 3483.7,2604.2 3481,2604.1 3470,2603.7 3461.7,2606.7 3452.1,2604.4 3442.4,2602.1 3434.2,2603.2 3432.8,2603.4 3417.6,2603.7 3414.9,2603.7 3406.6,2604.6 3402.5,2605.1 3392.8,2595.7 3390.1,2597.6 3379.1,2605.3 3376.3,2607.3 3368,2613.1 3365.3,2615 3357,2615 3347.4,2615 3339.1,2615 3328.1,2615 3319.8,2615 3318.5,2615 3310.2,2615 3307.4,2614.9 3297.8,2603.7 3296.4,2602.1 3290.9,2595.7 3288.2,2595.7 3282.6,2595.7 3278.5,2595.7 3271.6,2595.7 3268.9,2595.7 3260.6,2595.7 3251,2595.7 3241.3,2595.7 3234.4,2595.7 3224.8,2595.7 3212.4,2606.7 3211,2607.9 3200,2617.7 3189.5,2617.7 3186.8,2606.1 3178.5,2607.8 3175.8,2608.4 3167.5,2609.6 3164.7,2610 3159.2,2610.1 3155.1,2610.2 3145.5,2613.1 3127.5,2611.6 3124.8,2611.3 3116.5,2613 3098.6,2609.4 3089,2607.9 3087.6,2607.7 3080.7,2609 3079.3,2609.2 3068.3,2610.4 3051.8,2610.5 3049,2610.5 3039.4,2611.7 3038,2611.6 3029.8,2610.9 3018.7,2612.5 3007.7,2614.5 3000.8,2615.8 2985.7,2616 2971.9,2616.6 2962.3,2618.1 2952.6,2617.5 2943,2616.6 2930.6,2618.6 2905.8,2619.3 2896.1,2620.8 2867.2,2620.8 2856.2,2619.4 2831.4,2620.4 2817.6,2619.9 2790.1,2619.8 2779.1,2619.3 2769.4,2619.4 2761.2,2621.1 2752.9,2621.3 2733.6,2618.8 2721.2,2617.6 2712.9,2617.5 2703.3,2616.1 2693.7,2616.1 2684,2616.8 2674.4,2614.7 2666.1,2614.5 2655.1,2612.7 2645.5,2613.7 2635.8,2615 2626.2,2617.5 2616.5,2617.6 2606.9,2619.4 2600,2617.6 2589.5,2615.5 2578.5,2617.3 2568.9,2617 2559.2,2618.6 2549.6,2619.4 2515.2,2619.4 2504.1,2619.8 2493.1,2621.9 2473.8,2622.9 2464.2,2620.3 2454.5,2619.6 2443.5,2619.3 2433.9,2616 2425.6,2615 2416,2614.7 2406.3,2613.7 2396.7,2613.7 2387.1,2612.3 2378.8,2612.8 2367.8,2614.3 2356.7,2615 2347.7,2614 2337.5,2616 2327.8,2617.3 2316.8,2617.3 2308.5,2616 2299.7,2612.7 2289.3,2615 2271.3,2616.3 2260.3,2616.3 2242.4,2618 2232.8,2618 2222.6,2616.1 2213.5,2618 2203.9,2620.6 2195.6,2618.8 2187.3,2618 2176.3,2616.3 2154.3,2616.3 2146,2615.6 2137.7,2615.6 2126.7,2617.5 2118.5,2617.5 2099.2,2620.9 2088.2,2621.8 2060.6,2621.6 2048.2,2622.1 2040,2622.6 2029.5,2622.4 2022.6,2619.1 2004.7,2616.5 1992.3,2615.2 1979.9,2616.8 1933.1,2616.8 1920.7,2620.5 1908.3,2621.3 1891.8,2622.6 1839.4,2622.6 1829.8,2621 1818.8,2621 1809.1,2622.6 1740.3,2622.6 1732,2623.8 1627.3,2623.8 1610.8,2622.4 1583.3,2621.9 1528.2,2621.9 1508.9,2622.8 1481.3,2622.8 1440,2623.6 1356.3,2623.7 1337.9,2622.8 1301.2,2622.8 1264.4,2622.5 1235,2622.6 1220.3,2623.9 698.4,2624 694.5,2624" fill="#8172b3" fill-opacity="0.2" stroke="#8172b3" stroke-opacity="0.2" stroke-width="8.3" stroke-linejoin="round"/>
<polygon points="694.5,2624.7 698.4,2624.7 1374.6,2624.7 1389.3,2624 1440,2624.7 1508.9,2624.2 1519.9,2606.2 1605.3,2606.3 1616.3,2623.3 1883.5,2623.3 1894.5,2603.6 1985.5,2603.6 1993.7,2614.5 2015.8,2614.5 2024,2609 2040,2609 2429.8,2620.7 2440.8,2592.1 2473.8,2589.4 2482.1,2578.4 2512.4,2581.1 2523.4,2589.4 2531.7,2589.4 2539.9,2605.8 2573,2605.9 2581.3,2619.7 2600,2621.6 2655.1,2610.3 2740.5,2608.1 2750.1,2620.7 2845.2,2620.7 2856.2,2597.7 2944.4,2597.8 2955.4,2620.8 3029.8,2620.7 3040.8,2604.8 3079.3,2604.8 3090.4,2594.9 3104.1,2583.9 3123.4,2583.9 3137.2,2605.9 3167.5,2605.9 3175.8,2600.4 3200,2618.1 3262,2618.6 3271.6,2622.4 3301.9,2618.6 3310.2,2609.4 3326.7,2603.3 3332.2,2601.2 3337.7,2600.7 3359.8,2598.7 3392.8,2595.7 3395.6,2597.5 3405.2,2603.9 3414.9,2584.6 3417.6,2579.2 3425.9,2546.1 3434.2,2554.4 3461.7,2554.4 3464.5,2554.3 3472.7,2535.5 3474.1,2532.3 3511.3,2532.3 3520.9,2579 3530.6,2595.7 3558.1,2592.9 3569.1,2595.7 3577.4,2581.5 3588.4,2562.7 3607.7,2561.2 3617.4,2546.1 3627,2546.1 3635.3,2546 3646.3,2524.1 3665.6,2526.9 3676.6,2554.4 3684.8,2570.8 3686.2,2573.6 3695.9,2554.2 3704.1,2513.2 3715.2,2526.8 3733.1,2526.7 3744.1,2491 3752.3,2491 3764.7,2458 3773,2427.6 3782.6,2427.6 3792.3,2449.7 3800,2488.2 3801.2,2481.3 3805.3,2481.3 3831.5,2481.3 3831.5,2615.5 3805.3,2615.5 3801.2,2615.1 3800,2615 3792.3,2613.2 3782.6,2612.2 3773,2612.2 3764.7,2613.7 3752.3,2616 3744.1,2616.1 3733.1,2617.9 3715.2,2618 3704.1,2617.3 3695.9,2619.6 3686.2,2620.6 3684.8,2620.8 3676.6,2619.6 3665.6,2617.8 3646.3,2617.8 3635.3,2619.1 3627,2619.1 3617.4,2618.5 3607.7,2619.4 3588.4,2619.6 3577.4,2621.9 3569.1,2622.1 3558.1,2621.2 3530.6,2621.2 3520.9,2621.4 3511.3,2618.5 3474.1,2618.5 3472.7,2618.5 3464.5,2619.6 3461.7,2619.9 3434.2,2619.8 3425.9,2619.3 3417.6,2621.8 3414.9,2622.6 3405.2,2622.6 3395.6,2621.9 3392.8,2621.9 3359.8,2622.2 3337.7,2622.2 3332.2,2622.6 3326.7,2622.9 3310.2,2622.9 3301.9,2623.7 3271.6,2623.9 3262,2623.7 3200,2623.3 3175.8,2622.6 3167.5,2622.9 3137.2,2622.9 3123.4,2621.6 3104.1,2621.6 3090.4,2622.3 3079.3,2622.8 3040.8,2622.8 3029.8,2623.8 2955.4,2623.8 2944.4,2622.4 2856.2,2622.4 2845.2,2623.8 2750.1,2623.8 2740.5,2623 2655.1,2623.2 2600,2623.9 2581.3,2623.7 2573,2622.9 2539.9,2622.9 2531.7,2621.9 2523.4,2621.9 2512.4,2621.4 2482.1,2621.3 2473.8,2621.9 2440.8,2622.1 2429.8,2623.8 2040,2623.1 2024,2623.1 2015.8,2623.4 1993.7,2623.4 1985.5,2622.8 1894.5,2622.8 1883.5,2624 1616.3,2624 1605.3,2622.9 1519.9,2622.9 1508.9,2624.2 1440,2624.7 1389.3,2624 1374.6,2624.7 698.4,2624.7 694.5,2624.7" fill="#937860" fill-opacity="0.2" stroke="#937860" stroke-opacity="0.2" stroke-width="8.3" stroke-linejoin="round"/>
<polyline points="694.5,2623.3 698.4,2623.3 897.1,2622.5 911.8,2614.1 926.5,2606.7 959.6,2607.5 970.6,2609.3 1003.6,2609.3 1029.3,2621.4 1154.2,2622.5 1191,2607.8 1264.4,2607.8 1301.2,2604.9 1337.9,2601.2 1374.6,2582.8 1400.3,2579.2 1418.7,2590.2 1440,2593.9 1456.5,2598.6 1475.8,2601.3 1481.3,2601.3 1495.1,2594.5 1508.9,2594.5 1518.5,2598.6 1530.9,2593.1 1541.9,2587.6 1555.7,2576.6 1565.3,2579.3 1575,2587.6 1586,2572.4 1599.8,2547.6 1608,2535.2 1619.1,2521.5 1628.7,2527 1638.3,2517.3 1646.6,2528.3 1657.6,2520.1 1665.9,2510.4 1676.9,2520.1 1687.9,2528.3 1701.7,2535.2 1711.3,2506.3 1721,2482.9 1727.9,2487 1740.3,2481.5 1748.5,2480.1 1755.4,2466.4 1763.7,2477.4 1773.3,2477.4 1783,2495.3 1792.6,2499.4 1803.6,2522.8 1814.7,2544.9 1821.5,2547.6 1829.8,2535.2 1838.1,2535.2 1850.5,2557.3 1858.7,2560 1865.6,2561.4 1873.9,2539.4 1883.5,2506.3 1897.3,2489.8 1908.3,2476 1915.2,2465 1924.8,2463.6 1935.9,2442.9 1946.9,2426.4 1956,2404.4 1964.8,2415.4 1974.4,2434.7 1982.7,2437.4 1991,2418.2 1999.2,2434.7 2008.9,2449.8 2018.5,2434.7 2028.2,2412.6 2035,2360.3 2040,2357.5 2045.5,2382.2 2053.7,2384.9 2068.9,2394.6 2077.1,2424.9 2086.8,2397.3 2095,2402.8 2103.3,2435.9 2112.9,2452.4 2119.8,2485.5 2126.7,2510.3 2140.5,2502 2150.1,2510.3 2158.4,2508.9 2168,2467.6 2176.3,2484.1 2186,2457.9 2195.6,2434.5 2202.5,2453.8 2209.4,2434.5 2220.4,2423.5 2228.7,2408.3 2236.9,2397.3 2245.2,2360.1 2254.8,2402.8 2261.7,2379.4 2271.3,2394.6 2278.2,2389.1 2286.5,2347.7 2296.1,2318.8 2301.7,2310.6 2308.5,2311.9 2316.8,2285.8 2325.1,2307.8 2332,2307.8 2341.6,2296.8 2348.5,2254.1 2356.7,2248.6 2365,2276.1 2373.3,2306.4 2378.8,2287.1 2388.4,2298.2 2396.7,2327.1 2405,2321.6 2410.5,2259.6 2420.1,2243.1 2428.4,2255.5 2438,2274.7 2446.3,2251.3 2451.8,2218.3 2463.1,2189 2472.7,2179.4 2487.6,2254.1 2495.9,2292.6 2505.5,2243.1 2513.8,2251.3 2522,2221 2530.3,2256.8 2538.6,2218.3 2544.4,2186.3 2552.6,2184.9 2559.5,2136.7 2570.5,2128.4 2578.8,2164.2 2582.9,2121.5 2591.2,2135.3 2599.7,2124.3 2605.5,2154.6 2616.5,2120.2 2626.2,2080.2 2633.1,2085.7 2638.6,2076.1 2646.8,2114.7 2652.3,2124.3 2666.1,2131.2 2675.8,2147.7 2686.8,2151.8 2695,2183.5 2701.9,2154.6 2714.3,2157.4 2721.2,2129.8 2728.1,2131.2 2737.7,2128.4 2744.6,2043 2750.1,2092.6 2759.8,2044.4 2768,2007.2 2776.3,1963.1 2779.1,1909.4 2786,1935.6 2794.2,1861.2 2799.7,1932.8 2806.6,1868.1 2817.6,1903.9 2823.1,1872.2 2830,1879.1 2832.8,1846.1 2841,1817.1 2846.6,1875 2856.2,1887.4 2863.1,1877.7 2871.3,1938.3 2876.9,1932.8 2882.4,1903.9 2887.9,1953.5 2894.8,1935.6 2899.7,1978.3 2903,1898.4 2909.9,1910.8 2915.4,1883.3 2923.7,1883.3 2926.4,1833.7 2933.3,1835 2937.5,1883.3 2947.1,1879.1 2951.2,1807.5 2959.5,1864 2973.3,1848.8 2974.7,1814.4 2981.5,1795.1 2988.4,1819.9 2989.8,1713.5 2998.1,1721.8 3006.3,1702.5 3011.8,1710.8 3018.7,1699.8 3027,1703.9 3035.3,1724.5 3040.8,1721.8 3044.9,1732.8 3051.2,1692.9 3057.3,1732.8 3062.8,1699.8 3071.1,1727.3 3073.8,1791 3082.1,1770.3 3089,1659.8 3098.6,1628.1 3102.8,1562 3106.9,1509.7 3113.8,1523.4 3117.9,1509.7 3119.3,1424.3 3126.2,1465.6 3131.7,1461.5 3135.8,1526.2 3141.3,1523.4 3146.8,1549.6 3149.6,1597.8 3156.5,1625.4 3162,1573 3168.9,1551 3178.5,1586.8 3185.4,1562 3190.9,1534.5 3195,1585.4 3200,1531 3205.5,1471.1 3213.8,1449.1 3215.2,1410.5 3223.4,1344.4 3234.4,1289.3 3244.1,1349.9 3252.3,1316.8 3262,1332 3268.9,1381.6 3275.8,1289.3 3286.8,1319.6 3301.9,1231.1 3307.4,1247.7 3312.9,1268.3 3317.1,1297.5 3318.5,1261.4 3322.6,1286.5 3326.7,1262.8 3329.5,1340.2 3332.2,1238 3340.5,1251.8 3346,1265.6 3348.8,1174.7 3354.3,1199.4 3357,1166.4 3363.9,1148.5 3370.8,1191.2 3376.3,1238 3380.4,1251.8 3384,1207.7 3390.1,1232.5 3392.8,1262.8 3398.3,1240.8 3402.5,1173.3 3408,1216 3412.1,1163.6 3417.6,1096.1 3422.6,1166.4 3426.4,1034.2 3434.2,1075.5 3442.4,1141.6 3447.9,1078.2 3453.4,1108.5 3460.3,977.7 3467.2,1042.4 3469.4,857.9 3475.5,874.4 3479.6,852.3 3485.1,890.9 3489.3,984.6 3495.3,952.9 3501.7,1042.4 3505.8,1003.9 3514,1014.9 3522.3,1122.3 3530,1006.6 3538.3,1056.2 3541.6,1005.2 3548.5,1045.2 3549.9,866.1 3554,837.2 3560.9,888.2 3565,830.3 3571.9,790.1 3577.4,871.6 3584.3,875.8 3588.4,944.6 3596.7,900.6 3605.2,954.3 3614.6,969.4 3622.9,893.6 3629.8,827.5 3633.1,748.2 3634.4,742.6 3638.3,701.3 3647.5,701.3 3648.5,823.9 3657.2,762.6 3659.9,865.2 3665.4,892.8 3671.6,866.6 3675.5,811.5 3679.2,772.9 3680.2,680.7 3687.5,675.2 3691.2,715.1 3695,749.5 3696.4,792.2 3701.9,806 3704.7,832.2 3709.5,829.4 3712.1,922.1 3717.9,946 3723.4,981.8 3727.5,944.6 3734.4,973.6 3738.6,868.9 3741.3,805.5 3746.8,812.4 3751,901.9 3756.5,822 3764.7,893.7 3767.5,770.8 3774.4,755.6 3778.5,811 3779.9,762.5 3788.2,743.2 3792.3,852.3 3793.7,759.8 3800,815.7 3801.2,787.3 3805.3,908.8 3810.8,882.6 3813.6,844.1 3816.3,792.8 3817.7,871.6 3824.6,918.5 3828.7,770.8 3830.1,868.9 3834.2,816.5 3835.6,781.8 3840.8,771.6 3845.2,708.8 3849.4,715.7 3854.9,759.8 3857.6,813.8 3859,773.5 3863.1,811 3865.9,765.3 3870,822 3871.4,768 3875.5,743.2" fill="none" stroke="#4c72b0" stroke-width="12.5" stroke-linejoin="round" stroke-linecap="round"/>
<polyline points="694.5,2624 698.4,2624 1080.8,2623.3 1102.8,2611.5 1154.2,2610.4 1165.3,2607.8 1198.3,2607.8 1209.3,2621.4 1440,2623.7 1721,2624.2 1726.5,2617.9 1732,2624.2 1817.4,2624.2 1821.5,2617.9 1831.2,2617.9 1836.7,2624.2 2040,2624.2 2110.2,2615 2121.2,2608.1 2143.3,2608.1 2151.5,2616.3 2170.8,2617.7 2179.1,2613.6 2192.8,2617.7 2203.9,2617.7 2214.9,2609.4 2223.1,2615 2231.4,2609.4 2239.7,2609.4 2250.7,2598.4 2278.2,2599.8 2289.3,2591.5 2303,2594.3 2319.6,2592.9 2330.6,2599.8 2341.6,2609.4 2352.6,2613.6 2380.2,2615 2391.2,2623.2 2435.3,2625 2446.3,2617.7 2495.9,2615 2515.2,2603.9 2528.9,2603.9 2539.9,2612.2 2573,2613.6 2586.8,2602.6 2600,2608.1 2666.1,2608.6 2674.4,2615 2701.9,2615 2710.2,2606.7 2732.2,2605.3 2748.8,2597.1 2757,2595.7 2770.8,2587.4 2781.8,2579.1 2790.1,2575 2798.3,2575 2806.6,2583.3 2817.6,2584.7 2834.2,2583.3 2847.9,2591.5 2859,2601.2 2867.2,2609.4 2878.2,2615 2933.3,2615 2944.4,2601.2 2958.1,2579.1 2969.1,2562.6 2978.8,2564 2985.7,2540.6 2996.7,2521.3 3005,2524 3013.2,2510.3 3021.5,2508.9 3033.9,2502 3042.1,2497.9 3051.8,2510.3 3068.3,2510.3 3079.3,2529.6 3089,2537.8 3095.9,2539.2 3106.9,2551.6 3123.4,2550.2 3134.4,2562.6 3142.7,2562.6 3156.5,2584.7 3162,2584.7 3170.2,2543.3 3184,2542 3200,2544.7 3208.3,2530.9 3216.5,2530.9 3227.5,2524 3237.2,2502 3252.3,2502 3262,2543.3 3268.9,2543.3 3278.5,2530.9 3286.8,2530.9 3297.8,2548.8 3306.1,2550.2 3315.7,2566.7 3326.7,2575 3336.4,2575 3346,2557.1 3362.5,2548.8 3379.1,2526.8 3390.1,2515.8 3398.3,2496.5 3408,2474.5 3416.3,2491 3430,2480 3436.9,2452.4 3447.9,2442.8 3467.2,2435.9 3475.5,2437.3 3482.4,2469 3494.8,2449.7 3508.5,2434.5 3519.6,2445.5 3526.4,2471.7 3534.7,2430.4 3544.4,2446.9 3554,2435.9 3566.4,2407 3570.5,2407 3578.8,2430.4 3588.4,2424.9 3599.4,2441.4 3611.8,2445.5 3620.1,2502 3629.8,2500.6 3638,2464.8 3647.7,2463.4 3658.7,2430.4 3668.3,2441.4 3676.6,2438.7 3679.3,2383.6 3686.2,2369.8 3695.9,2338.1 3705.5,2302.3 3712.4,2305 3720.7,2339.5 3727.5,2340.9 3734.4,2369.8 3741.3,2342.2 3752.3,2338.1 3759.2,2347.7 3767.5,2336.7 3775.8,2375.3 3786.8,2362.9 3800,2347.7 3808,2328.5 3820.4,2306.4 3830.1,2294 3838.4,2305 3845.2,2315.2" fill="none" stroke="#dd8452" stroke-width="12.5" stroke-linejoin="round" stroke-linecap="round"/>
<polyline points="694.5,2623.3 698.4,2623.3 746.5,2622.5 757.5,2606.7 775.9,2606.7 786.9,2612.2 845.7,2612.2 860.4,2621.4 1301.2,2621.4 1337.9,2614.1 1374.6,2614.1 1411.3,2606.7 1440,2604.5 1473.1,2605.5 1508.9,2613.7 1550.2,2605.5 1591.5,2602.7 1630.1,2602.7 1638.3,2597.2 1674.2,2597.2 1685.2,2611 1693.4,2611 1704.5,2598.6 1715.5,2597.2 1732,2597.2 1745.8,2601.3 1759.6,2595.8 1778.8,2595.8 1788.5,2590.3 1798.1,2598.6 1811.9,2601.3 1825.7,2611 1836.7,2595.8 1850.5,2595.8 1857.4,2601.3 1872.5,2589 1886.3,2594.5 1894.5,2593.1 1911.1,2575.2 1922.1,2573.8 1929,2590.3 1949.6,2590.3 1963.4,2604.1 1971.7,2604.1 1979.9,2594.5 1991,2594.5 2002,2604.1 2010.2,2604.1 2018.5,2594.5 2040,2595.8 2041.3,2595.7 2053.7,2579.1 2064.7,2575 2075.8,2584.7 2085.4,2584.7 2095,2575 2110.2,2594.3 2141.9,2594.3 2152.9,2615 2159.8,2615 2170.8,2606.7 2181.8,2606.7 2192.8,2615 2202.5,2615 2209.4,2590.2 2220.4,2568.1 2234.2,2565.4 2246.6,2557.1 2256.2,2558.5 2264.5,2568.1 2278.2,2562.6 2294.8,2555.7 2304.4,2587.4 2311.3,2590.2 2323.7,2583.3 2340.2,2587.4 2349.9,2573.6 2359.5,2569.5 2371.9,2573.6 2396.7,2573.6 2407.7,2568.1 2418.7,2573.6 2425.6,2546.1 2435.3,2539.2 2446.3,2554.4 2465.6,2526.8 2473.8,2529.6 2483.5,2525.4 2495.9,2521.3 2504.1,2543.3 2515.2,2547.5 2524.8,2568.1 2531.7,2576.4 2544.1,2577.8 2553.7,2595.7 2562,2595.7 2570.2,2587.4 2577.1,2565.4 2584,2551.6 2600,2548.2 2616.5,2550.2 2626.2,2526.8 2635.8,2518.5 2646.8,2515.8 2655.1,2525.4 2666.1,2517.2 2674.4,2522.7 2682.6,2521.3 2696.4,2502 2710.2,2485.5 2719.8,2480 2729.5,2492.4 2739.1,2482.7 2748.8,2462.1 2757,2469 2766.7,2471.7 2776.3,2482.7 2787.3,2489.6 2801.1,2502 2812.1,2491 2820.4,2491 2831.4,2496.5 2838.3,2481.3 2847.9,2495.1 2856.2,2507.5 2865.8,2496.5 2878.2,2497.9 2886.5,2495.1 2893.4,2488.2 2900.3,2466.2 2909.9,2449.7 2919.6,2435.9 2927.8,2463.4 2936.1,2423.5 2945.7,2413.9 2960.9,2423.5 2971.9,2394.6 2982.9,2411.1 2992.6,2452.4 3000.8,2452.4 3007.7,2386.3 3017.4,2354.6 3027,2397.3 3032.5,2320.2 3038,2259.6 3058.7,2175.3 3068.3,2171.1 3076.6,2173.9 3089,2229.3 3097.2,2237.5 3104.1,2218.3 3112.4,2295.4 3116.5,2335.3 3123.4,2335.3 3130.3,2292.6 3138.6,2349.1 3146.8,2314.7 3159.2,2276.1 3164.2,2230.7 3173,2241.7 3184,2186.3 3192.3,2172.5 3200,2190.5 3208.3,2265.1 3216.5,2229.3 3224.8,2270.6 3234.4,2262.3 3242.7,2284.4 3251,2298.2 3260.6,2289.9 3267.5,2300.9 3274.4,2281.6 3285.4,2265.1 3289.5,2221 3296.4,2236.2 3303.3,2229.3 3311.6,2265.1 3319.8,2237.5 3326.7,2145 3337.7,2147.7 3344.6,2056.8 3354.3,2056.8 3363.9,1960.4 3372.2,1943.9 3381.8,1927.3 3387.3,1894.3 3394.2,1996.2 3403.9,1986.6 3412.1,2051.3 3417.6,2019.6 3428.7,2032 3432.8,2129.8 3443.8,2026.5 3456.2,2018.2 3464.5,1954.9 3468.6,1908 3478.2,1954.9 3483.7,1953.5 3487.9,1985.2 3496.1,1976.9 3498.9,1932.8 3507.2,2021 3514,1971.4 3522.3,1949.4 3529.2,2007.2 3537.5,1996.2 3547.1,2007.2 3552.6,1943.9 3558.1,1960.4 3566.4,1992.1 3570.5,1888.8 3576,1883.3 3585.7,1952.1 3589.8,1908 3596.7,1931.5 3599.4,1866.7 3607.7,1843.3 3618.7,1843.3 3627,1710.8 3636.6,1868.1 3640.8,1767.5 3649,1789.6 3654.5,1699.8 3662.8,1699.8 3669.7,1619.9 3687.6,1621.2 3693.1,1703.9 3709.6,1698.4 3719.3,1768.9 3726.2,1751 3728.9,1641.9 3735.8,1559.3 3744.1,1424.3 3753.7,1468.3 3760.6,1395.3 3771.6,1399.5 3778.5,1443.6 3785.4,1534.5 3790.9,1581.3 3795,1534.5 3800,1534.5 3801.2,1551 3808,1498.7 3814.9,1523.4 3819.1,1611.6 3821.8,1691.5 3828.7,1666.7 3834.2,1644.7 3839.7,1666.7 3845.2,1686" fill="none" stroke="#55a868" stroke-width="12.5" stroke-linejoin="round" stroke-linecap="round"/>
<polyline points="694.5,2615.2 698.4,2615.2 772.2,2615.2 786.9,2610.4 834.7,2610.4 845.7,2606.7 875.1,2606.7 886.1,2619.6 926.5,2619.6 1058.7,2621.4 1080.8,2617.7 1099.1,2615.9 1154.2,2615.9 1191,2621.4 1264.4,2617.7 1286.5,2603 1312.2,2603 1330.5,2604.9 1356.3,2592 1365.4,2592 1378.3,2610.4 1411.3,2590.2 1440,2592.6 1453.8,2598.6 1467.5,2598.6 1475.8,2591.7 1486.8,2591.7 1499.2,2602.7 1511.6,2609.6 1522.6,2601.3 1533.7,2600 1544.7,2595.8 1561.2,2595.8 1572.2,2601.3 1583.3,2601.3 1591.5,2590.3 1601.2,2589 1609.4,2577.9 1619.1,2589 1630.1,2589 1638.3,2583.4 1674.2,2583.4 1685.2,2593.1 1693.4,2590.3 1703.1,2604.1 1712.7,2583.4 1722.4,2564.2 1732,2573.8 1751.3,2568.3 1766.4,2568.3 1788.5,2575.2 1796.7,2562.8 1806.4,2577.9 1816,2594.5 1825.7,2579.3 1847.7,2584.8 1861.5,2584.8 1869.8,2572.4 1878,2547.6 1887.7,2522.8 1898.7,2516 1908.3,2522.8 1919.3,2542.1 1930.4,2543.5 1949.6,2540.7 1963.4,2544.9 1971.7,2569.7 1982.7,2580.7 1993.7,2576.6 2007.5,2558.7 2015.8,2553.1 2029.5,2553.1 2036.4,2522.8 2040,2484.3 2045.5,2492.4 2055.1,2502 2063.4,2502 2071.6,2511.7 2085.4,2503.4 2099.2,2492.4 2112.9,2489.6 2121.2,2513 2132.2,2544.7 2140.5,2544.7 2150.1,2530.9 2162.5,2544.7 2170.8,2553 2181.8,2554.4 2191.5,2565.4 2198.3,2547.5 2209.4,2547.5 2220.4,2551.6 2232.8,2532.3 2239.7,2540.6 2250.7,2504.8 2260.3,2470.3 2270,2488.2 2279.6,2475.8 2286.5,2489.6 2296.1,2475.8 2305.8,2466.2 2312.7,2441.4 2320.9,2460.7 2329.2,2424.9 2338.8,2437.3 2355.4,2437.3 2371.9,2453.8 2387.1,2444.2 2398.1,2456.6 2406.3,2457.9 2413.2,2485.5 2422.9,2519.9 2431.1,2514.4 2440.8,2514.4 2451.8,2530.9 2461.4,2515.8 2473.8,2526.8 2489,2548.8 2495.9,2496.5 2504.1,2469 2515.2,2438.7 2524.8,2441.4 2531.7,2387.7 2539.9,2387.7 2546.8,2356 2555.1,2367 2559.2,2336.7 2568.9,2321.6 2577.1,2350.5 2586.8,2350.5 2595,2356 2600,2325.7 2611,2369.8 2626.2,2334 2634.4,2309.2 2642.7,2322.9 2653.7,2311.9 2666.1,2278.9 2675.8,2270.6 2684,2320.2 2690.9,2292.6 2699.2,2276.1 2706.1,2320.2 2717.1,2342.2 2725.3,2325.7 2733.6,2339.5 2741.9,2357.4 2750.1,2328.5 2757,2295.4 2765.3,2320.2 2774.9,2320.2 2784.6,2338.1 2798.3,2332.6 2809.4,2314.7 2817.6,2287.1 2825.9,2248.6 2834.2,2255.5 2842.4,2272 2849.3,2221 2859,2186.3 2871.3,2168.4 2878.2,2182.1 2886,2151.8 2893.4,2175.3 2901.7,2167 2914,2189 2926.4,2226.5 2927.3,2180.8 2930.6,2150.5 2936.1,2131.2 2945.7,2125.7 2955.4,2084.4 2960.9,2158.7 2970.5,2168.4 2981.5,2205.6 2993.9,2194.5 3002.2,2243.1 3011,2294 3020.1,2256.8 3028.4,2233.4 3038,2258.2 3044.9,2226.5 3051.8,2136.7 3058.7,2147.7 3065.6,2117.4 3075.2,2095.4 3080.7,2040.3 3091.7,2036.1 3098.6,2106.4 3106.9,2164.2 3113.8,2133.9 3122,2106.4 3133.1,2139.4 3139.9,2111.9 3149.6,2067.8 3156.5,2091.2 3166.1,2081.6 3171.6,2043 3177.1,1954.9 3186.8,1952.1 3192.3,1974.2 3200,1943.9 3216.5,1964.5 3224.8,2014.1 3234.4,1976.9 3239.9,1970 3248.2,2062.3 3255.1,2018.2 3263.4,2026.5 3270.2,1996.2 3279.9,2015.5 3285.4,1967.3 3293.7,1986.6 3303.3,1919.1 3311.6,1850.2 3321.2,1785.5 3329.5,1852.9 3336.4,1748.3 3343.3,1716.3 3355.6,1778.6 3363.9,1760.7 3372.2,1792.3 3379.1,1841.9 3387.3,1886 3395.6,1877.7 3403.9,1883.3 3410.7,1942.5 3420.4,1930.1 3428.7,1894.3 3436.9,1855.7 3443.8,1803.4 3450.7,1770.3 3457.6,1735.6 3459,1742.8 3465.8,1748.3 3471.3,1768.9 3472.7,1697 3481,1650.2 3487.9,1622.6 3496.1,1663.9 3500.3,1691.5 3508.5,1699.8 3522.3,1789.6 3533.3,1824 3541.6,1792.3 3549.9,1779.9 3558.1,1839.2 3566.4,1895.6 3573.3,1850.2 3580.2,1806.1 3587.1,1850.2 3596.7,1828.2 3602.2,1767.5 3607.7,1695.6 3618.7,1691.5 3625.6,1669.4 3631.1,1686 3640.8,1666.7 3647.7,1670.8 3654.5,1694.2 3660.1,1600.6 3669.7,1592.3 3678,1615.7 3682.1,1672.2 3690.4,1665.3 3697.2,1699.8 3704.1,1658.4 3712.4,1639.1 3719.3,1651.5 3727.5,1632.3 3735.8,1697 3744.1,1717.7 3753.7,1669.4 3764.7,1614.4 3774.4,1581.3 3781.3,1619.9 3788.2,1613 3792.3,1676.3 3800,1652.9 3802.5,1666.7 3809.4,1636.4 3816.3,1577.2 3824.6,1584 3834.2,1577.2 3838.4,1639.1 3843.9,1650.2 3849.4,1658.4" fill="none" stroke="#c44e52" stroke-width="12.5" stroke-linejoin="round" stroke-linecap="round"/>
<polyline points="694.5,2624 698.4,2624 1220.3,2623.3 1235,2612.2 1264.4,2611.5 1301.2,2614.1 1337.9,2614.1 1356.3,2621.4 1440,2620.8 1481.3,2613.7 1508.9,2613.7 1528.2,2606.9 1583.3,2606.9 1610.8,2611 1627.3,2622 1732,2622 1740.3,2612.4 1809.1,2612.4 1818.8,2598.6 1829.8,2598.6 1839.4,2612.4 1891.8,2612.4 1908.3,2601.3 1920.7,2594.5 1933.1,2564.2 1979.9,2564.2 1992.3,2550.4 2004.7,2561.4 2022.6,2583.4 2029.5,2611 2040,2612.4 2048.2,2608.1 2060.6,2603.9 2088.2,2605.3 2099.2,2598.4 2118.5,2569.5 2126.7,2569.5 2137.7,2554.4 2146,2554.4 2154.3,2559.9 2176.3,2559.9 2187.3,2573.6 2195.6,2580.5 2203.9,2595.7 2213.5,2573.6 2222.6,2558.5 2232.8,2573.6 2242.4,2573.6 2260.3,2559.9 2271.3,2559.9 2289.3,2548.8 2299.7,2529.6 2308.5,2557.1 2316.8,2568.1 2327.8,2568.1 2337.5,2557.1 2347.7,2540.6 2356.7,2548.8 2367.8,2543.3 2378.8,2530.9 2387.1,2526.8 2396.7,2537.8 2406.3,2537.8 2416,2546.1 2425.6,2548.8 2433.9,2557.1 2443.5,2584.7 2454.5,2587.4 2464.2,2592.9 2473.8,2615 2493.1,2606.7 2504.1,2588.8 2515.2,2586 2549.6,2586 2559.2,2579.1 2568.9,2565.4 2578.5,2568.1 2589.5,2553 2600,2570.9 2606.9,2586 2616.5,2570.9 2626.2,2569.5 2635.8,2548.8 2645.5,2537.8 2655.1,2529.6 2666.1,2544.7 2674.4,2546.1 2684,2564 2693.7,2558.5 2703.3,2558.5 2712.9,2569.5 2721.2,2570.9 2733.6,2580.5 2752.9,2601.2 2761.2,2599.8 2769.4,2586 2779.1,2584.7 2790.1,2588.8 2817.6,2590.2 2831.4,2594.3 2856.2,2586 2867.2,2597.1 2896.1,2597.1 2905.8,2584.7 2930.6,2579.1 2943,2562.6 2952.6,2569.5 2962.3,2575 2971.9,2562.6 2985.7,2557.1 3000.8,2555.7 3018.7,2528.2 3029.8,2514.4 3039.4,2521.3 3049,2511.7 3068.3,2510.3 3080.7,2499.3 3087.6,2488.2 3098.6,2502 3116.5,2532.3 3124.8,2518.5 3145.5,2533.7 3155.1,2508.9 3164.7,2507.5 3175.8,2493.7 3186.8,2474.5 3200,2453.8 3212.4,2456.6 3224.8,2473.1 3234.4,2466.2 3241.3,2452.4 3251,2478.6 3260.6,2463.4 3268.9,2485.5 3278.5,2513 3288.2,2518.5 3297.8,2515.8 3310.2,2525.4 3319.8,2532.3 3328.1,2530.9 3339.1,2540.6 3347.4,2540.6 3357,2544.7 3368,2518.5 3376.3,2502 3390.1,2482.7 3402.5,2466.2 3414.9,2455.2 3432.8,2452.4 3442.4,2441.4 3452.1,2460.7 3461.7,2480 3470,2455.2 3489.3,2460.7 3501.7,2449.7 3511.3,2449.7 3520.9,2464.8 3541.6,2456.6 3547.1,2415.2 3558.1,2405.6 3566.4,2441.4 3576,2419.4 3585.7,2407 3595.3,2431.8 3603.6,2404.2 3613.2,2372.5 3621.5,2373.9 3631.1,2380.8 3640.8,2422.1 3649,2408.3 3660.1,2426.3 3669.7,2441.4 3678,2473.1 3687.6,2469 3697.2,2457.9 3713.8,2444.2 3726.2,2426.3 3735.8,2415.2 3744.1,2420.7 3752.3,2369.8 3764.7,2353.3 3774.4,2342.2 3784,2343.6 3792.3,2380.8 3800,2416.6 3809.4,2427.6 3819.1,2415.2 3831.5,2417.2" fill="none" stroke="#8172b3" stroke-width="12.5" stroke-linejoin="round" stroke-linecap="round"/>
<polyline points="694.5,2624.7 698.4,2624.7 1374.6,2624.7 1389.3,2624 1440,2624.7 1508.9,2624.2 1519.9,2615.1 1605.3,2615.1 1616.3,2623.7 1883.5,2623.7 1894.5,2613.7 1985.5,2613.7 1993.7,2619.3 2015.8,2619.3 2024,2616.5 2040,2616.5 2429.8,2622.4 2440.8,2608.1 2473.8,2606.7 2482.1,2601.2 2512.4,2602.6 2523.4,2606.7 2531.7,2606.7 2539.9,2615 2573,2615 2581.3,2621.8 2600,2622.8 2655.1,2617.2 2740.5,2616.1 2750.1,2622.4 2845.2,2622.4 2856.2,2610.8 2944.4,2610.8 2955.4,2622.4 3029.8,2622.4 3040.8,2614.4 3079.3,2614.4 3090.4,2609.4 3104.1,2603.9 3123.4,2603.9 3137.2,2615 3167.5,2615 3175.8,2612.2 3200,2618.1 3262,2621.3 3271.6,2623.2 3301.9,2621.3 3310.2,2615 3326.7,2615 3337.7,2608.9 3359.8,2608.9 3395.6,2606.7 3405.2,2612.2 3414.9,2612.2 3425.9,2584.7 3434.2,2588.8 3461.7,2590.2 3472.7,2577.8 3511.3,2577.8 3520.9,2602.6 3530.6,2600.6 3558.1,2600.6 3569.1,2608.1 3577.4,2606.7 3588.4,2587.4 3607.7,2586 3617.4,2577.8 3627,2583.3 3635.3,2583.3 3646.3,2572.3 3665.6,2572.3 3676.6,2587.4 3684.8,2597.1 3695.9,2587.4 3704.1,2568.1 3715.2,2573.6 3733.1,2573.6 3744.1,2558.5 3752.3,2557.1 3764.7,2537.8 3773,2525.4 3782.6,2525.4 3792.3,2533.7 3800,2548.8 3805.3,2553 3831.5,2553" fill="none" stroke="#937860" stroke-width="12.5" stroke-linejoin="round" stroke-linecap="round"/>
<polyline points="694.5,2624 698.4,2624 922.8,2624 933.8,2617.7 1020.2,2617.7 1031.2,2624 1146.9,2624 1161.6,2621.4 1242.4,2621.4 1257.1,2623.3 1374.6,2623.3 1389.3,2617.7 1440,2615.7 1473.1,2613.7 1481.3,2624.2 1508.9,2624.2 1519.9,2613.7 1605.3,2613.7 1616.3,2624.2 2040,2624.2 2413.2,2624 2427,2617.2 2468.3,2617.7 2509.6,2619.1 2520.7,2624 2600,2624 2646.8,2624 2656.5,2617.7 2740.5,2617.7 2750.1,2624 3029.8,2624 3040.8,2612.8 3079.3,2612.8 3087.6,2610.8 3126.2,2610.8 3137.2,2624 3200,2624 3519.6,2624 3530.6,2617.7 3616,2617.7 3627,2624 3800,2624 3802.5,2624 3831.5,2624" fill="none" stroke="#da8bc3" stroke-width="12.5" stroke-linejoin="round" stroke-linecap="round"/>
</g>
<g font-size="133.33px">
<text transform="translate(674,2914.7) scale(1,1.042)" text-anchor="middle">0M</text>
<text transform="translate(1476.5,2914.7) scale(1,1.042)" text-anchor="middle">0.2M</text>
<text transform="translate(2279,2914.7) scale(1,1.042)" text-anchor="middle">0.4M</text>
<text transform="translate(3081.5,2914.7) scale(1,1.042)" text-anchor="middle">0.6M</text>
<text transform="translate(3884,2914.7) scale(1,1.042)" text-anchor="middle">0.8M</text>
<text transform="translate(454.5,476.5) scale(1,1.042)" text-anchor="end">0.8</text>
<text transform="translate(454.5,1025.75) scale(1,1.042)" text-anchor="end">0.6</text>
<text transform="translate(454.5,1575) scale(1,1.042)" text-anchor="end">0.4</text>
<text transform="translate(454.5,2124.25) scale(1,1.042)" text-anchor="end">0.2</text>
<text transform="translate(454.5,2673.5) scale(1,1.042)" text-anchor="end">0.0</text>
</g>
<g font-size="191.67px">
<text x="2283.6" y="200.7" text-anchor="middle">MiniGrid-KeyCorridorS3R3-v0</text>
<text x="2286" y="3113.5" text-anchor="middle">Env Steps</text>
<text transform="translate(213,1511) rotate(-90)" text-anchor="middle">Return</text>
</g>
<rect x="567.1" y="284" width="1262.8" height="691" rx="13" ry="13" fill="#eaeaf2" fill-opacity="0.8" stroke="#cccccc" stroke-opacity="0.8" stroke-width="8.3"/>
<g font-size="66.67px">
<line x1="594.5" y1="337.5" x2="727.5" y2="337.5" stroke="#4c72b0" stroke-width="12.5" stroke-linecap="round"/>
<text x="780.8" y="360.7">IntrinsicExploration</text>
<line x1="594.5" y1="432.3" x2="727.5" y2="432.3" stroke="#dd8452" stroke-width="12.5" stroke-linecap="round"/>
<text x="780.8" y="455.5">EpsGreedy</text>
<line x1="594.5" y1="528.4" x2="727.5" y2="528.4" stroke="#55a868" stroke-width="12.5" stroke-linecap="round"/>
<text x="780.8" y="551.6">PolicyEntropyRegularization-0.05</text>
<line x1="594.5" y1="625.4" x2="727.5" y2="625.4" stroke="#c44e52" stroke-width="12.5" stroke-linecap="round"/>
<text x="780.8" y="648.6">PolicyEntropyRegularization-0.005</text>
<line x1="594.5" y1="721.5" x2="727.5" y2="721.5" stroke="#8172b3" stroke-width="12.5" stroke-linecap="round"/>
<text x="780.8" y="744.7">FixedTemperature</text>
<line x1="594.5" y1="816.5" x2="727.5" y2="816.5" stroke="#937860" stroke-width="12.5" stroke-linecap="round"/>
<text x="780.8" y="839.7">NaiveDoubleSimulation</text>
<line x1="594.5" y1="912.4" x2="727.5" y2="912.4" stroke="#da8bc3" stroke-width="12.5" stroke-linecap="round"/>
<text x="780.8" y="935.6">Naive</text>
</g>
</svg></body></html>
